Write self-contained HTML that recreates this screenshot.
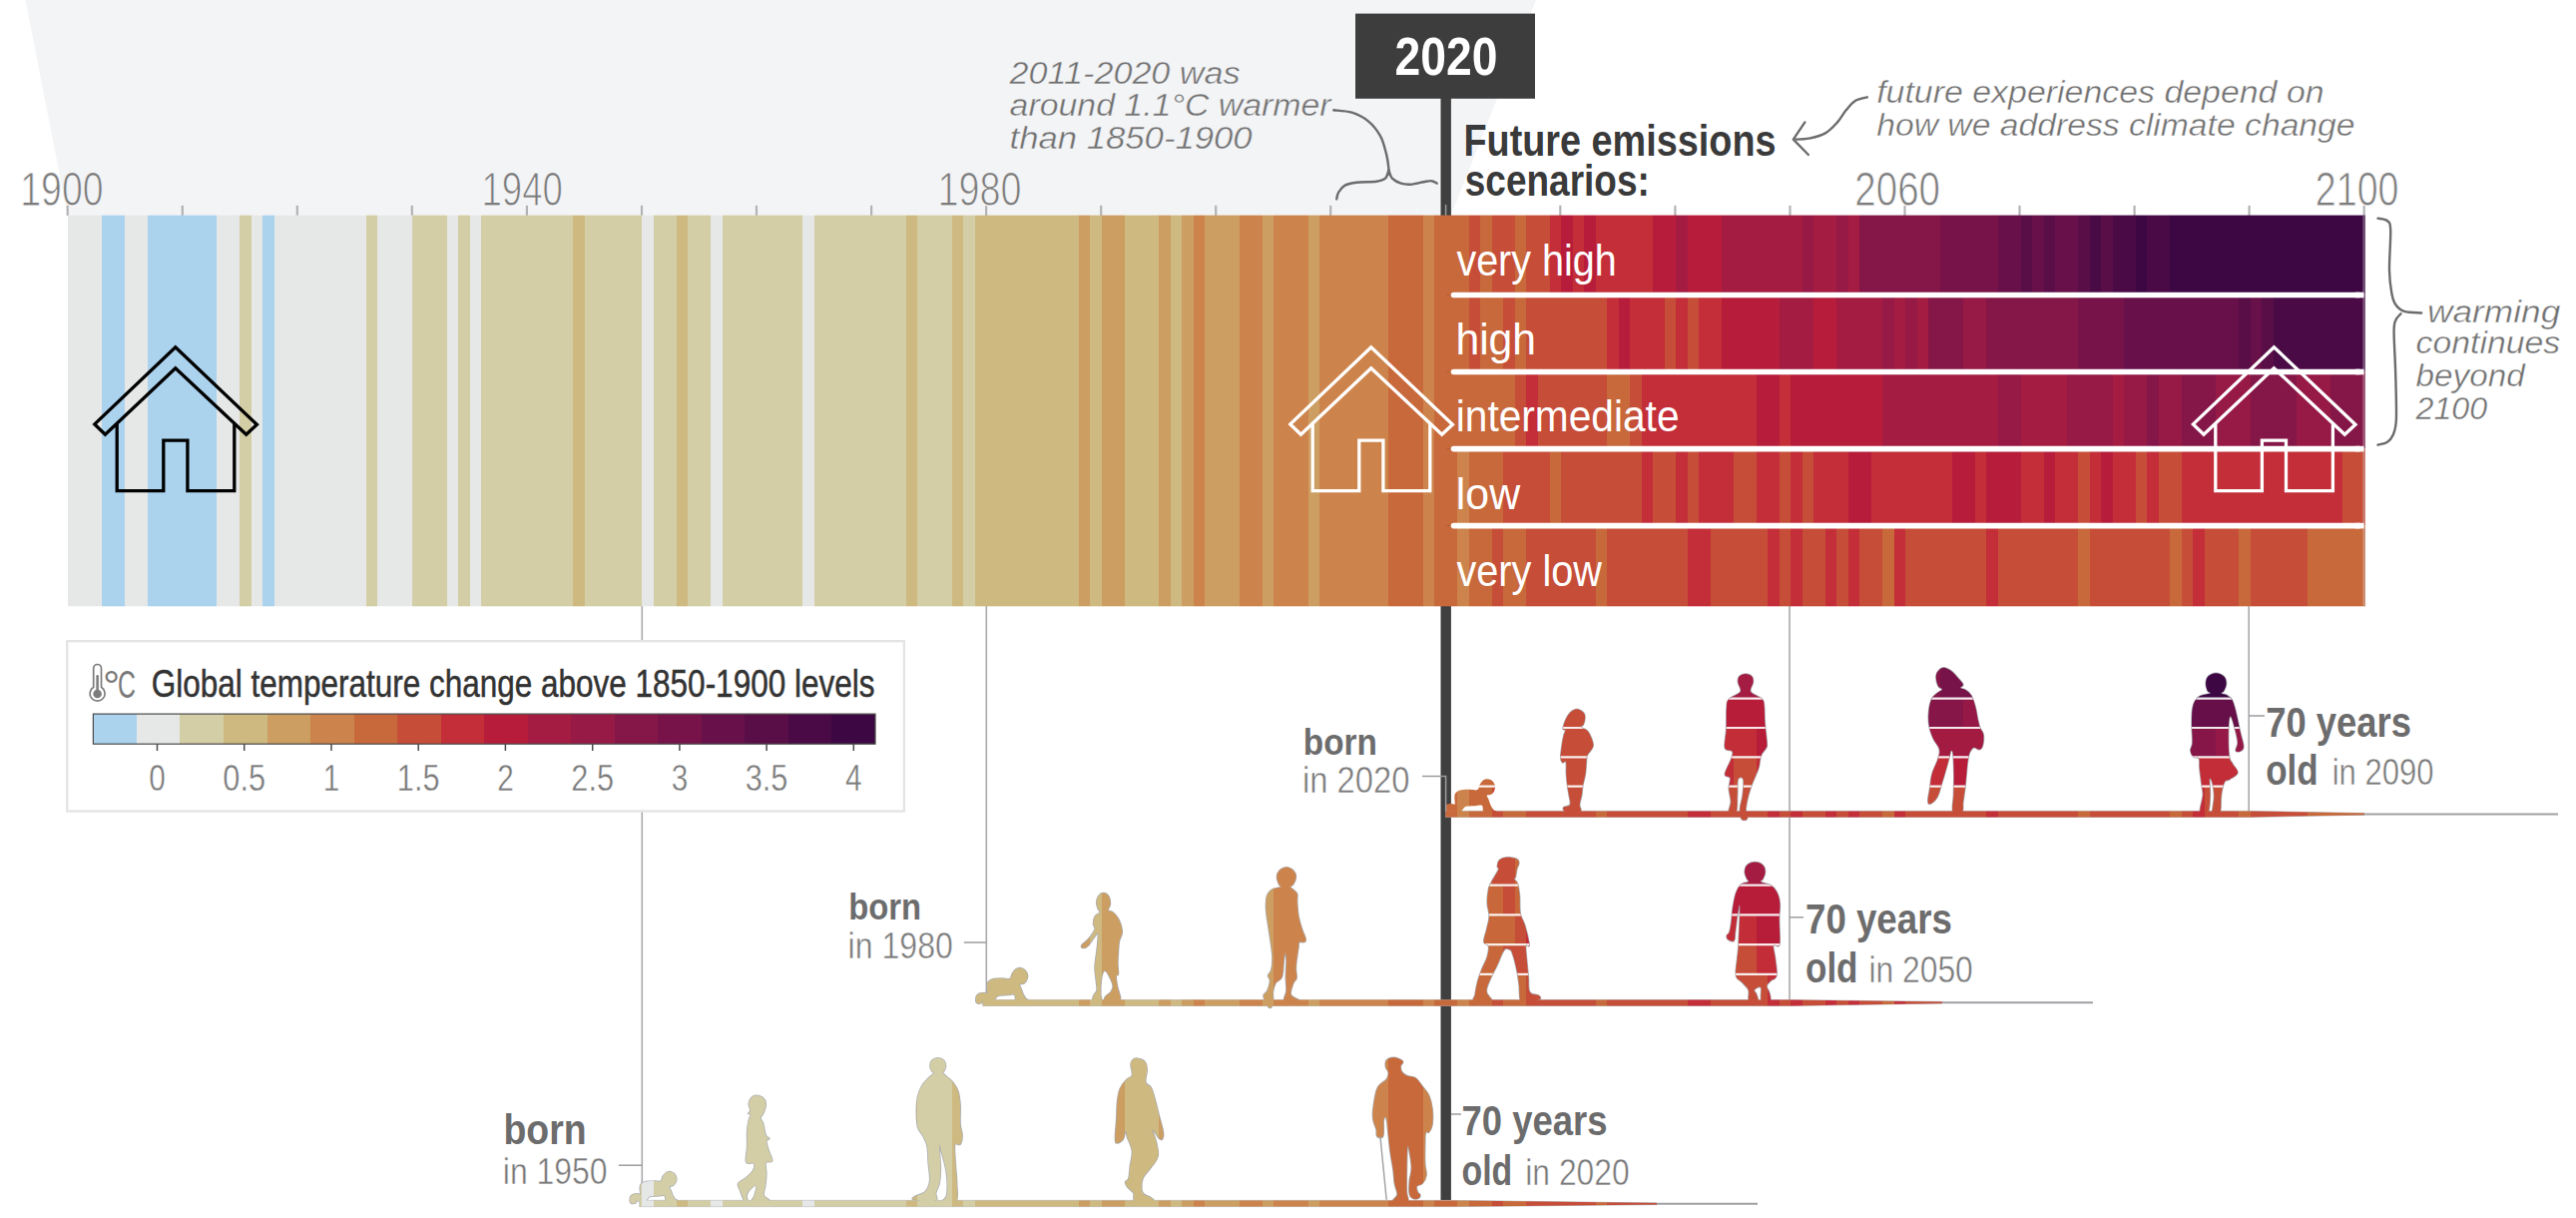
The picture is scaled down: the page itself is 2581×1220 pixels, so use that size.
<!DOCTYPE html>
<html lang="en"><head><meta charset="utf-8"><title>Global temperature change and generations</title>
<style>html,body{margin:0;padding:0;background:#fff}body{width:2581px;height:1220px;overflow:hidden}svg{display:block}</style></head>
<body>
<svg width="2581" height="1220" viewBox="0 0 2581 1220">
<defs><path id="girl1" d="M1581.1 710.5C1583.0 711.0 1585.7 712.5 1586.9 714.2C1588.2 715.9 1588.1 717.4 1588.0 719.5C1587.9 721.7 1587.2 724.4 1586.4 725.9C1585.6 727.5 1583.0 727.0 1583.7 728.1C1584.4 729.1 1588.4 730.2 1590.1 731.8C1591.9 733.4 1592.2 733.9 1593.3 736.6C1594.5 739.3 1596.5 743.6 1596.3 746.7C1596.1 749.9 1593.4 751.8 1592.3 753.7C1591.1 755.5 1590.6 755.5 1590.1 756.9C1589.6 758.2 1589.9 757.8 1589.6 761.1C1589.3 764.5 1589.2 770.3 1588.5 775.0C1587.8 779.7 1586.6 782.8 1585.9 786.7C1585.2 790.6 1585.4 792.8 1584.8 796.3C1584.2 799.9 1582.9 803.0 1582.7 805.9C1582.5 808.9 1585.1 811.1 1583.7 812.3C1582.4 813.6 1578.1 812.9 1575.2 812.9C1572.3 812.9 1569.3 813.1 1567.7 812.3C1566.2 811.6 1565.7 809.8 1566.7 808.6C1567.6 807.4 1572.1 808.2 1573.1 805.9C1574.0 803.7 1572.5 799.9 1572.0 796.3C1571.5 792.8 1570.9 790.6 1570.4 786.7C1569.9 782.8 1569.6 779.3 1569.3 775.0C1569.1 770.7 1569.7 765.3 1569.0 763.3C1568.3 761.2 1566.6 764.6 1565.6 763.8C1564.6 763.0 1563.8 761.8 1563.7 759.0C1563.5 756.2 1564.2 752.2 1564.7 748.3C1565.3 744.4 1565.7 740.8 1566.5 737.7C1567.2 734.5 1568.6 732.6 1568.6 731.3C1568.5 729.9 1566.3 731.8 1566.1 730.2C1566.0 728.6 1566.9 725.5 1567.9 722.7C1569.0 720.0 1570.5 717.3 1572.0 715.3C1573.5 713.2 1574.6 712.4 1576.3 711.5C1577.9 710.7 1579.1 710.0 1581.1 710.5Z"/><path id="man1" d="M1748.9 674.9C1751.2 674.9 1753.8 675.9 1755.2 677.5C1756.6 679.0 1756.7 681.0 1756.5 683.4C1756.3 685.8 1754.0 688.6 1753.9 690.6C1753.7 692.7 1753.7 692.8 1755.8 694.6C1758.0 696.4 1763.5 697.9 1765.7 700.5C1767.9 703.0 1767.2 704.0 1767.7 708.4C1768.1 712.7 1767.8 717.6 1768.3 724.1C1768.8 730.6 1770.1 739.3 1770.3 743.8C1770.5 748.4 1770.7 746.7 1769.6 749.1C1768.6 751.5 1765.8 753.1 1764.4 757.0C1762.9 760.8 1763.7 764.1 1761.8 770.1C1759.8 776.1 1756.2 782.6 1753.9 789.8C1751.6 797.0 1749.9 804.0 1749.3 809.5C1748.7 815.1 1751.4 818.1 1750.6 820.0C1749.7 822.0 1746.0 822.0 1744.7 820.0C1743.3 818.1 1743.1 813.9 1743.4 809.5C1743.6 805.2 1745.4 801.7 1746.0 796.4C1746.6 791.1 1747.5 783.5 1746.6 780.6C1745.8 777.7 1742.5 777.7 1741.4 780.6C1740.3 783.5 1741.1 790.4 1740.7 796.4C1740.4 802.4 1741.0 810.3 1739.4 813.5C1737.9 816.6 1733.2 815.4 1732.2 813.5C1731.2 811.5 1734.2 807.3 1734.2 803.0C1734.2 798.6 1732.3 794.2 1732.2 789.8C1732.1 785.5 1734.2 782.0 1733.5 779.3C1732.8 776.7 1728.0 779.0 1728.2 775.4C1728.5 771.8 1733.5 763.8 1734.8 759.6C1736.1 755.4 1736.7 754.3 1735.5 752.4C1734.3 750.4 1729.3 753.1 1728.2 749.1C1727.2 745.1 1729.2 738.2 1729.6 730.7C1729.9 723.2 1729.5 713.9 1730.0 708.4C1730.4 702.8 1730.0 703.0 1732.2 700.5C1734.4 697.9 1739.9 696.4 1742.0 694.6C1744.2 692.8 1744.1 692.7 1744.0 690.6C1743.9 688.6 1741.6 685.8 1741.4 683.4C1741.1 681.0 1741.3 679.0 1742.7 677.5C1744.1 675.9 1746.6 674.9 1748.9 674.9Z"/><path id="woman1" d="M1948.0 668.8C1950.4 669.1 1953.3 670.8 1956.1 672.9C1958.8 675.0 1960.9 678.0 1962.9 680.3C1964.8 682.7 1966.7 684.1 1966.9 685.8C1967.2 687.4 1963.7 688.1 1964.2 689.1C1964.7 690.1 1967.6 689.8 1969.6 691.2C1971.6 692.5 1973.3 693.6 1975.1 696.6C1976.8 699.6 1977.9 703.0 1979.1 707.4C1980.4 711.9 1981.0 717.0 1981.8 721.0C1982.7 725.0 1982.9 726.4 1983.9 729.1C1984.9 731.9 1986.8 732.7 1987.3 735.9C1987.8 739.1 1987.3 744.0 1986.6 746.7C1985.8 749.5 1984.8 750.4 1983.2 750.8C1981.6 751.2 1979.5 748.3 1977.8 748.8C1976.0 749.3 1974.8 751.2 1973.7 753.5C1972.6 755.9 1972.3 757.7 1971.7 761.7C1971.0 765.6 1970.8 770.2 1970.3 775.2C1969.8 780.2 1969.6 783.5 1969.0 788.8C1968.3 794.0 1967.5 799.2 1966.9 803.7C1966.4 808.1 1967.7 811.4 1965.8 813.2C1964.0 814.9 1958.3 816.4 1956.8 813.2C1955.2 809.9 1957.3 802.5 1957.4 795.5C1957.6 788.6 1957.8 782.7 1957.7 775.2C1957.6 767.8 1957.3 759.1 1956.8 754.9C1956.2 750.7 1955.3 751.7 1954.7 752.2C1954.1 752.7 1954.4 753.9 1953.4 757.6C1952.4 761.3 1950.8 767.3 1949.3 772.5C1947.8 777.7 1946.7 781.3 1945.2 786.1C1943.7 790.8 1943.2 794.8 1941.2 798.2C1939.2 801.7 1936.1 804.3 1934.4 805.0C1932.7 805.8 1931.8 805.3 1931.7 802.3C1931.6 799.3 1933.0 793.7 1933.7 788.8C1934.5 783.8 1934.4 780.2 1935.8 775.2C1937.1 770.2 1939.8 766.1 1941.2 761.7C1942.5 757.2 1944.0 754.8 1943.2 750.8C1942.5 746.8 1939.0 744.2 1937.1 740.0C1935.2 735.7 1933.9 732.5 1933.0 727.8C1932.2 723.0 1932.0 719.2 1932.4 714.2C1932.7 709.2 1933.6 704.3 1935.1 700.7C1936.6 697.1 1938.5 696.4 1940.5 694.6C1942.5 692.7 1945.7 691.9 1945.9 690.5C1946.2 689.1 1943.0 689.5 1941.9 687.1C1940.7 684.7 1939.7 680.5 1939.8 677.6C1939.9 674.8 1941.0 673.1 1942.5 671.5C1944.0 669.9 1945.5 668.6 1948.0 668.8Z"/><path id="oldw1" d="M2220.3 674.2C2223.2 674.2 2226.3 675.6 2228.2 677.5C2230.1 679.4 2230.6 682.1 2230.6 684.7C2230.6 687.4 2229.1 690.1 2228.2 691.9C2227.3 693.7 2225.0 693.7 2225.6 694.6C2226.2 695.4 2229.4 695.2 2231.5 696.5C2233.5 697.9 2235.1 698.4 2236.8 701.8C2238.4 705.2 2239.2 709.1 2240.7 714.9C2242.1 720.7 2243.3 727.3 2244.6 733.3C2246.0 739.3 2247.9 744.3 2247.9 747.8C2247.9 751.3 2246.1 751.7 2244.6 752.4C2243.2 753.1 2240.5 753.3 2240.0 751.7C2239.6 750.2 2242.1 747.7 2242.0 743.8C2241.9 740.0 2240.7 735.5 2239.4 730.7C2238.1 725.9 2236.0 717.6 2234.8 717.6C2233.6 717.6 2233.1 723.5 2232.8 730.7C2232.6 737.9 2232.7 750.7 2233.5 757.0C2234.2 763.2 2235.2 761.7 2236.8 764.9C2238.3 768.0 2242.5 771.2 2242.0 774.1C2241.5 776.9 2236.5 778.9 2234.1 780.6C2231.7 782.3 2230.4 780.4 2228.9 783.2C2227.3 786.1 2226.4 790.8 2225.6 796.4C2224.7 801.9 2225.8 810.3 2224.3 813.5C2222.7 816.6 2218.4 814.2 2217.0 813.5C2215.7 812.7 2216.8 812.7 2217.0 809.5C2217.3 806.4 2218.5 801.2 2218.4 796.4C2218.2 791.6 2217.2 786.1 2216.4 783.2C2215.5 780.4 2214.1 778.2 2213.8 780.6C2213.4 783.0 2214.7 790.4 2214.4 796.4C2214.2 802.4 2214.1 810.3 2212.4 813.5C2210.8 816.6 2206.7 814.2 2205.2 813.5C2203.8 812.7 2204.2 812.7 2204.6 809.5C2204.9 806.4 2206.9 800.7 2207.2 796.4C2207.4 792.1 2206.5 790.7 2205.9 785.9C2205.3 781.1 2204.4 774.9 2203.9 770.1C2203.4 765.3 2204.3 761.8 2203.2 759.6C2202.2 757.4 2199.6 759.7 2198.0 758.3C2196.4 756.8 2194.9 754.4 2194.7 751.7C2194.5 749.1 2196.4 748.9 2196.7 743.8C2196.9 738.8 2195.9 730.9 2196.0 724.1C2196.1 717.4 2196.0 711.9 2197.3 707.0C2198.7 702.2 2200.1 700.1 2203.2 697.8C2206.4 695.6 2212.9 695.6 2214.4 694.6C2216.0 693.5 2212.6 693.7 2211.8 691.9C2211.0 690.1 2210.0 687.4 2210.1 684.7C2210.2 682.1 2210.6 679.4 2212.4 677.5C2214.3 675.6 2217.4 674.2 2220.3 674.2Z"/><path id="r1baby" d="M1446.3 809.9C1446.5 808.6 1446.5 808.4 1447.3 807.5C1448.1 806.6 1448.8 806.0 1450.3 805.5C1451.8 805.0 1453.2 805.0 1454.7 805.0C1456.2 805.0 1457.1 806.5 1457.6 805.5C1458.1 804.5 1457.4 802.0 1457.4 800.1C1457.4 798.2 1457.2 797.5 1457.6 796.1C1458.0 794.7 1458.3 794.2 1459.6 793.2C1460.9 792.2 1461.4 791.7 1464.1 791.2C1466.8 790.7 1469.7 790.7 1472.9 790.7C1476.1 790.7 1478.3 792.1 1480.3 791.0C1482.3 789.9 1481.5 787.4 1482.9 785.4C1484.3 783.4 1485.4 781.7 1487.4 780.8C1489.4 779.9 1490.9 780.0 1492.9 780.8C1494.9 781.6 1496.2 783.0 1497.2 784.9C1498.2 786.8 1498.2 788.3 1497.7 790.4C1497.2 792.5 1496.5 793.9 1494.9 795.2C1493.3 796.5 1490.6 795.8 1489.9 796.8C1489.2 797.8 1490.4 798.1 1491.2 800.1C1492.0 802.1 1492.8 804.8 1493.8 807.0C1494.8 809.2 1495.3 809.7 1496.3 810.9C1497.3 812.1 1500.5 812.5 1498.7 812.9C1496.9 813.3 1489.8 813.7 1487.2 812.9C1484.6 812.1 1486.3 810.3 1485.7 809.0C1485.1 807.7 1485.8 806.9 1484.2 806.5C1482.6 806.1 1480.5 807.0 1477.8 807.2C1475.1 807.4 1472.6 807.2 1470.5 807.5C1468.4 807.8 1468.6 807.7 1467.5 808.5C1466.4 809.3 1465.8 810.5 1465.0 811.4C1464.2 812.3 1466.0 812.6 1463.6 812.9C1461.2 813.2 1455.4 812.5 1453.2 812.9C1451.0 813.3 1453.2 814.4 1452.7 814.9C1452.2 815.4 1451.6 815.2 1450.7 815.4C1449.8 815.6 1449.2 816.1 1448.3 815.8C1447.4 815.5 1446.7 815.1 1446.3 813.9C1445.9 812.7 1446.1 811.2 1446.3 809.9Z"/><path id="r1gr" d="M1448.5 812.4H2253L2369 814.6V816.1999999999999L2253 818.5H1448.5Z"/><clipPath id="r1"><use href="#girl1"/><use href="#man1"/><use href="#woman1"/><use href="#oldw1"/><use href="#r1gr"/></clipPath><clipPath id="r1b"><rect x="1448.5" y="0" width="200" height="1220"/></clipPath><clipPath id="r1c" clip-path="url(#r1b)"><use href="#r1baby"/></clipPath><path id="boy2" d="M1106.1 894.6C1107.8 894.8 1109.7 895.8 1110.9 897.8C1112.0 899.8 1112.6 902.7 1112.5 905.3C1112.4 907.8 1109.8 910.1 1110.3 911.7C1110.8 913.2 1113.3 912.2 1115.1 913.8C1117.0 915.4 1118.9 917.5 1120.5 920.2C1122.0 922.9 1123.0 926.0 1123.7 928.7C1124.4 931.5 1124.6 932.6 1124.2 935.1C1123.8 937.7 1122.2 939.3 1121.5 942.6C1120.8 945.9 1120.8 949.2 1120.5 953.3C1120.2 957.4 1119.9 960.9 1119.9 965.0C1119.9 969.1 1120.8 973.3 1120.5 975.7C1120.2 978.0 1118.5 975.6 1118.3 977.8C1118.1 980.0 1118.8 984.3 1119.4 987.4C1120.0 990.5 1120.9 992.5 1121.5 994.9C1122.1 997.2 1123.0 998.8 1122.6 1000.2C1122.2 1001.6 1122.1 1001.9 1119.4 1002.3C1116.7 1002.7 1109.8 1003.1 1107.7 1002.3C1105.5 1001.6 1106.7 999.6 1107.7 998.1C1108.6 996.5 1111.6 995.8 1113.0 993.8C1114.4 991.8 1115.3 990.1 1115.1 987.4C1114.9 984.7 1113.3 981.6 1111.9 978.9C1110.6 976.1 1109.0 973.1 1107.7 972.5C1106.3 971.9 1105.3 972.9 1104.5 975.7C1103.6 978.4 1103.2 983.5 1102.9 987.4C1102.6 991.3 1102.8 994.3 1102.9 997.0C1103.0 999.7 1104.9 1001.4 1103.4 1002.3C1101.9 1003.3 1096.1 1003.5 1094.9 1002.3C1093.6 1001.2 1095.7 997.9 1096.5 995.9C1097.2 994.0 1098.8 994.4 1099.1 991.7C1099.4 988.9 1098.5 985.3 1098.1 981.0C1097.7 976.7 1096.8 973.7 1097.0 968.2C1097.2 962.7 1098.5 956.6 1099.1 951.1C1099.7 945.7 1100.2 941.3 1100.2 938.3C1100.2 935.4 1100.9 933.6 1099.1 935.1C1097.4 936.7 1093.1 944.2 1090.6 946.9C1088.1 949.5 1086.5 949.5 1085.3 949.5C1084.0 949.5 1082.7 948.5 1083.7 946.9C1084.6 945.2 1088.2 943.4 1090.6 940.5C1093.0 937.5 1096.1 933.6 1097.0 930.9C1097.9 928.1 1095.4 927.9 1095.4 925.5C1095.4 923.2 1095.7 920.2 1097.0 918.1C1098.3 915.9 1101.7 915.2 1102.3 913.8C1102.9 912.4 1100.9 912.6 1100.2 910.6C1099.5 908.6 1098.4 905.7 1098.6 903.1C1098.8 900.6 1099.9 898.3 1101.3 896.7C1102.6 895.2 1104.3 894.4 1106.1 894.6Z"/><path id="teen2" d="M1288.9 868.7C1291.5 868.7 1294.2 870.3 1295.9 872.1C1297.7 873.9 1298.5 876.0 1298.5 878.5C1298.5 880.9 1297.0 883.6 1295.9 885.5C1294.9 887.3 1292.7 887.6 1292.7 888.6C1292.7 889.7 1294.6 889.9 1295.9 891.2C1297.2 892.5 1299.0 893.4 1299.7 895.6C1300.4 897.9 1299.5 899.3 1299.7 903.3C1300.0 907.2 1300.1 912.1 1301.0 917.3C1301.9 922.4 1303.5 927.2 1304.8 931.3C1306.1 935.4 1307.5 937.3 1308.0 939.6C1308.5 941.8 1308.5 942.6 1307.4 943.4C1306.2 944.2 1302.8 943.0 1301.6 944.0C1300.5 945.1 1301.6 944.7 1301.0 949.1C1300.4 953.5 1298.8 962.6 1298.5 968.2C1298.1 973.8 1299.6 976.6 1299.1 979.7C1298.6 982.7 1297.0 981.7 1295.9 984.7C1294.9 987.8 1292.4 993.1 1293.4 996.2C1294.3 999.4 1302.2 1000.8 1301.0 1001.9C1299.8 1003.0 1289.2 1004.1 1287.0 1002.3C1284.8 1000.6 1288.7 996.8 1288.9 992.4C1289.1 988.0 1288.3 984.0 1288.3 978.4C1288.3 972.8 1289.0 966.3 1288.9 961.8C1288.8 957.4 1288.1 954.2 1287.6 954.2C1287.2 954.2 1287.0 957.4 1286.4 961.8C1285.8 966.3 1286.0 974.2 1284.5 978.4C1282.9 982.6 1279.7 981.9 1278.1 984.7C1276.5 987.5 1276.0 990.2 1275.5 993.7C1275.1 997.2 1276.1 1000.9 1275.5 1003.8C1275.0 1006.8 1273.8 1009.6 1272.4 1009.6C1271.0 1009.6 1269.1 1006.2 1267.9 1003.8C1266.7 1001.5 1265.7 998.9 1266.0 996.8C1266.4 994.7 1268.7 995.1 1269.8 992.4C1271.0 989.7 1272.3 985.0 1272.4 982.2C1272.5 979.4 1270.2 979.0 1270.5 977.1C1270.7 975.2 1272.8 975.3 1273.6 972.0C1274.5 968.7 1275.0 964.7 1274.9 959.3C1274.8 953.9 1273.8 948.8 1273.0 942.7C1272.2 936.7 1271.3 932.0 1270.5 926.2C1269.6 920.4 1268.8 916.1 1268.5 910.9C1268.3 905.8 1268.1 901.8 1269.2 898.2C1270.2 894.6 1271.7 892.9 1274.3 891.2C1276.8 889.4 1281.9 889.7 1283.2 888.6C1284.5 887.6 1282.0 887.3 1281.3 885.5C1280.6 883.6 1279.3 880.9 1279.4 878.5C1279.5 876.0 1280.2 873.9 1281.9 872.1C1283.7 870.3 1286.3 868.7 1288.9 868.7Z"/><path id="walk2" d="M1509.7 858.8C1512.8 858.6 1517.0 859.2 1519.2 860.2C1521.5 861.2 1521.8 862.4 1521.9 864.2C1522.1 866.1 1520.5 867.7 1519.9 870.3C1519.3 872.9 1519.0 876.6 1518.5 878.5C1518.0 880.3 1516.8 879.3 1517.2 880.5C1517.6 881.7 1519.6 882.1 1520.6 885.2C1521.6 888.3 1522.1 892.0 1522.6 897.4C1523.1 902.9 1522.3 909.6 1523.3 915.1C1524.3 920.5 1526.4 921.8 1528.0 927.3C1529.6 932.7 1531.5 941.1 1532.1 944.9C1532.7 948.6 1532.0 947.1 1531.4 947.6C1530.8 948.1 1529.0 944.4 1528.7 947.6C1528.5 950.8 1529.6 959.5 1530.1 965.2C1530.6 970.9 1530.9 973.5 1531.4 978.8C1531.9 984.0 1530.9 990.3 1532.8 993.7C1534.6 997.0 1539.8 995.7 1541.6 997.1C1543.3 998.4 1544.6 1000.3 1542.3 1001.1C1539.9 1002.0 1532.2 1001.7 1528.7 1001.8C1525.2 1001.9 1524.5 1004.8 1523.3 1001.8C1522.0 998.8 1522.7 991.5 1521.9 985.5C1521.2 979.6 1520.5 975.0 1519.2 969.3C1518.0 963.6 1516.4 957.7 1515.1 954.4C1513.9 951.0 1513.9 951.5 1512.4 951.0C1510.9 950.5 1509.3 948.8 1507.0 951.7C1504.8 954.5 1502.7 961.3 1500.2 966.6C1497.8 971.8 1495.5 975.4 1493.5 980.1C1491.5 984.8 1489.5 988.8 1489.4 992.3C1489.3 995.8 1492.0 997.4 1492.8 999.1C1493.5 1000.8 1496.3 1001.3 1493.5 1001.8C1490.6 1002.3 1480.1 1002.8 1477.2 1001.8C1474.3 1000.8 1477.3 999.9 1477.9 996.4C1478.5 992.9 1479.2 987.8 1480.6 982.8C1482.0 977.9 1483.6 973.7 1485.3 969.3C1487.1 964.8 1489.0 962.4 1490.1 958.4C1491.2 954.5 1492.1 950.3 1491.4 947.6C1490.8 944.9 1487.1 946.5 1486.7 943.5C1486.3 940.5 1488.4 936.0 1489.4 931.3C1490.4 926.6 1492.0 922.7 1492.1 917.8C1492.2 912.8 1490.2 909.2 1490.1 904.2C1490.0 899.2 1490.7 894.4 1491.4 890.7C1492.2 886.9 1492.6 886.9 1494.1 883.9C1495.6 880.9 1498.2 876.9 1499.6 874.4C1500.9 871.9 1501.5 871.6 1501.6 870.3C1501.7 869.1 1500.1 869.2 1500.2 867.6C1500.4 866.0 1500.5 863.1 1502.3 861.5C1504.0 859.9 1506.6 859.1 1509.7 858.8Z"/><path id="oldw2" d="M1758.4 863.5C1761.2 863.5 1764.4 864.8 1766.2 866.6C1768.1 868.4 1768.6 870.8 1768.6 873.4C1768.6 876.0 1767.0 878.8 1766.2 880.6C1765.4 882.4 1762.7 882.0 1764.3 883.2C1765.8 884.5 1771.8 885.1 1774.8 887.2C1777.8 889.2 1779.1 891.2 1780.7 894.4C1782.3 897.7 1783.0 900.1 1783.3 904.9C1783.7 909.7 1782.7 913.9 1782.7 920.7C1782.7 927.4 1783.4 936.8 1783.3 941.7C1783.2 946.7 1783.2 946.7 1782.0 947.6C1780.8 948.6 1777.4 944.7 1776.8 947.0C1776.2 949.3 1778.1 954.6 1778.7 960.1C1779.3 965.7 1780.9 973.1 1780.0 977.2C1779.2 981.3 1775.9 980.5 1774.1 982.4C1772.3 984.4 1770.4 985.5 1770.2 987.7C1769.9 989.9 1772.2 991.6 1772.8 994.3C1773.4 996.9 1774.9 1000.7 1773.5 1002.2C1772.0 1003.6 1766.6 1004.6 1764.9 1002.2C1763.2 999.7 1765.6 990.9 1764.3 989.0C1762.9 987.1 1758.5 990.4 1757.7 991.6C1756.9 992.8 1759.1 993.7 1759.7 995.6C1760.3 997.5 1762.3 1001.0 1761.0 1002.2C1759.7 1003.4 1754.1 1004.1 1752.4 1002.2C1750.8 1000.2 1753.1 995.0 1751.8 991.6C1750.5 988.3 1747.5 986.4 1745.2 983.8C1742.9 981.1 1740.2 981.5 1739.3 977.2C1738.5 972.9 1740.1 965.9 1740.6 960.1C1741.1 954.3 1741.5 955.3 1741.9 945.7C1742.4 936.0 1743.5 912.6 1743.2 907.6C1743.0 902.5 1741.5 913.2 1740.6 918.1C1739.8 922.9 1739.3 929.4 1738.6 933.8C1738.0 938.3 1738.7 941.0 1737.3 942.4C1736.0 943.7 1732.7 942.0 1731.4 941.1C1730.1 940.1 1729.9 938.4 1730.1 937.1C1730.4 935.8 1731.9 936.4 1732.7 933.8C1733.6 931.3 1734.1 927.7 1734.7 923.3C1735.3 919.0 1735.2 915.5 1736.0 910.2C1736.9 904.9 1737.7 898.9 1739.3 894.4C1740.9 890.0 1742.3 887.9 1744.6 885.9C1746.9 883.8 1750.8 884.3 1751.8 883.2C1752.8 882.2 1750.9 881.8 1750.2 880.0C1749.5 878.2 1748.1 875.9 1748.1 873.4C1748.2 870.9 1748.6 868.4 1750.5 866.6C1752.4 864.8 1755.5 863.5 1758.4 863.5Z"/><path id="r2baby" d="M977.9 999.3C978.1 998.0 978.1 997.8 978.9 996.9C979.7 996.0 980.4 995.4 981.9 994.9C983.4 994.4 984.8 994.4 986.3 994.4C987.8 994.4 988.7 995.9 989.2 994.9C989.7 993.9 989.0 991.4 989.0 989.5C989.0 987.6 988.8 986.9 989.2 985.5C989.6 984.1 989.9 983.6 991.2 982.6C992.5 981.6 993.0 981.1 995.7 980.6C998.4 980.1 1001.3 980.1 1004.5 980.1C1007.7 980.1 1009.9 981.5 1011.9 980.4C1013.9 979.3 1013.1 976.8 1014.5 974.8C1015.9 972.8 1017.0 971.1 1019.0 970.2C1021.0 969.3 1022.5 969.4 1024.5 970.2C1026.5 971.0 1027.8 972.4 1028.8 974.3C1029.8 976.2 1029.8 977.7 1029.3 979.8C1028.8 981.9 1028.1 983.3 1026.5 984.6C1024.9 985.9 1022.2 985.2 1021.5 986.2C1020.8 987.2 1022.0 987.5 1022.8 989.5C1023.6 991.5 1024.4 994.2 1025.4 996.4C1026.4 998.6 1026.9 999.1 1027.9 1000.3C1028.9 1001.5 1032.1 1001.9 1030.3 1002.3C1028.5 1002.7 1021.4 1003.1 1018.8 1002.3C1016.2 1001.5 1017.9 999.7 1017.3 998.4C1016.7 997.1 1017.4 996.3 1015.8 995.9C1014.2 995.5 1012.1 996.4 1009.4 996.6C1006.7 996.8 1004.2 996.6 1002.1 996.9C1000.0 997.2 1000.2 997.1 999.1 997.9C998.0 998.7 997.4 999.9 996.6 1000.8C995.8 1001.7 997.6 1002.0 995.2 1002.3C992.8 1002.6 987.0 1001.9 984.8 1002.3C982.6 1002.7 984.8 1003.8 984.3 1004.3C983.8 1004.8 983.2 1004.6 982.3 1004.8C981.4 1005.0 980.8 1005.5 979.9 1005.2C979.0 1004.9 978.3 1004.5 977.9 1003.3C977.5 1002.1 977.7 1000.6 977.9 999.3Z"/><path id="r2gr" d="M984.8 1001.6H1794L1946 1003.4000000000001V1005.0L1794 1007.5H984.8Z"/><clipPath id="r2"><use href="#boy2"/><use href="#teen2"/><use href="#walk2"/><use href="#oldw2"/><use href="#r2baby"/><use href="#r2gr"/></clipPath><path id="girl3" d="M757.7 1097.3C759.8 1097.3 762.3 1097.9 764.1 1099.4C765.9 1100.9 767.0 1102.8 767.3 1105.3C767.6 1107.7 766.4 1110.6 765.7 1112.8C765.0 1114.9 764.3 1115.7 763.6 1117.0C762.9 1118.4 761.8 1118.7 762.0 1120.2C762.2 1121.8 763.7 1122.4 764.6 1125.6C765.6 1128.7 766.1 1134.6 767.3 1137.3C768.5 1140.1 770.9 1139.4 771.0 1140.5C771.1 1141.6 767.9 1140.8 767.8 1143.2C767.7 1145.5 769.4 1149.7 770.5 1153.3C771.6 1156.9 774.3 1160.9 773.7 1162.9C773.1 1165.0 768.4 1162.2 767.3 1164.5C766.2 1166.9 767.9 1171.5 767.8 1175.7C767.7 1180.0 767.3 1183.6 766.8 1187.5C766.3 1191.4 764.5 1194.5 765.2 1197.1C765.9 1199.7 769.4 1200.7 770.5 1201.9C771.6 1203.1 774.0 1203.2 771.0 1203.5C768.1 1203.8 757.2 1204.7 754.5 1203.5C751.8 1202.3 755.5 1200.0 756.1 1197.1C756.7 1194.2 758.8 1188.3 757.7 1187.5C756.6 1186.7 752.0 1190.9 750.2 1192.8C748.5 1194.8 748.4 1196.6 748.1 1198.2C747.8 1199.7 749.1 1200.7 748.6 1201.4C748.1 1202.1 746.7 1203.5 745.4 1201.9C744.2 1200.3 742.8 1195.9 741.7 1192.8C740.6 1189.8 738.6 1187.7 739.6 1185.4C740.5 1183.0 744.3 1182.4 747.0 1180.0C749.8 1177.7 753.0 1175.3 754.5 1172.5C756.0 1169.8 756.3 1166.6 755.0 1165.1C753.8 1163.5 748.7 1166.9 747.6 1164.0C746.4 1161.1 748.4 1154.7 748.6 1149.1C748.8 1143.4 748.3 1137.9 748.6 1133.0C748.9 1128.1 749.5 1125.5 750.2 1122.4C750.9 1119.2 752.5 1117.2 752.4 1116.0C752.3 1114.7 749.8 1116.1 749.7 1115.4C749.6 1114.7 751.7 1114.1 751.8 1112.2C751.9 1110.4 750.0 1107.6 750.2 1105.3C750.4 1102.9 751.5 1100.9 752.9 1099.4C754.3 1097.9 755.6 1097.3 757.7 1097.3Z"/><path id="man3" d="M939.7 1059.8C942.0 1059.8 944.4 1060.8 945.8 1062.2C947.3 1063.6 947.6 1065.6 947.6 1067.6C947.6 1069.6 946.4 1071.8 945.8 1073.0C945.3 1074.3 943.9 1073.3 944.5 1074.4C945.1 1075.5 947.4 1077.4 949.2 1079.1C951.1 1080.9 952.6 1081.3 954.6 1083.9C956.6 1086.5 958.7 1089.1 960.1 1093.4C961.4 1097.6 961.7 1101.0 962.1 1106.9C962.5 1112.9 961.7 1120.4 962.1 1125.9C962.5 1131.4 964.1 1133.0 964.1 1136.7C964.1 1140.5 963.5 1144.4 962.1 1146.2C960.7 1148.1 957.5 1143.4 956.7 1146.9C955.8 1150.4 957.0 1158.1 957.3 1165.2C957.7 1172.3 958.6 1178.6 958.7 1185.5C958.8 1192.5 960.5 1199.9 958.0 1203.2C955.5 1206.4 946.9 1204.2 945.1 1203.2C943.4 1202.2 947.8 1201.0 948.5 1197.7C949.3 1194.5 949.3 1190.3 949.2 1185.5C949.1 1180.8 949.0 1177.9 947.9 1172.0C946.7 1166.0 944.4 1157.5 943.1 1153.0C941.9 1148.5 941.2 1144.1 941.1 1147.6C941.0 1151.1 942.4 1165.0 942.4 1172.0C942.4 1178.9 942.0 1181.3 941.1 1185.5C940.2 1189.8 938.4 1192.0 937.7 1195.0C936.9 1198.1 941.0 1200.9 937.0 1202.1C933.0 1203.3 919.7 1202.2 916.0 1201.5C912.3 1200.9 914.7 1199.9 916.7 1198.4C918.7 1197.0 924.1 1196.5 926.9 1193.7C929.6 1190.8 931.0 1188.0 931.6 1182.8C932.2 1177.6 930.7 1171.7 930.2 1165.2C929.7 1158.7 930.0 1152.8 928.9 1147.6C927.8 1142.4 925.9 1140.2 924.1 1136.7C922.4 1133.3 920.5 1133.3 919.4 1128.6C918.3 1123.9 918.3 1116.5 918.3 1111.0C918.3 1105.5 918.5 1103.0 919.4 1098.8C920.3 1094.6 921.6 1091.3 923.5 1088.0C925.3 1084.6 927.3 1082.9 929.6 1080.5C931.8 1078.1 934.9 1076.4 935.7 1075.1C936.4 1073.7 934.3 1074.4 933.6 1073.0C932.9 1071.7 931.9 1069.6 931.9 1067.6C931.9 1065.6 932.2 1063.6 933.6 1062.2C935.1 1060.8 937.5 1059.8 939.7 1059.8Z"/><path id="walk3" d="M1139.7 1060.2C1142.0 1060.5 1145.4 1061.4 1147.2 1063.6C1148.9 1065.7 1149.1 1068.0 1149.2 1071.7C1149.3 1075.4 1147.1 1080.7 1147.9 1083.9C1148.6 1087.1 1151.5 1086.1 1153.3 1089.3C1155.0 1092.5 1155.9 1096.3 1157.3 1101.5C1158.8 1106.7 1159.9 1111.8 1161.4 1117.8C1162.9 1123.7 1164.9 1129.8 1165.5 1134.0C1166.1 1138.3 1165.5 1139.7 1164.8 1140.8C1164.1 1141.9 1163.3 1141.9 1161.4 1140.1C1159.6 1138.4 1155.1 1130.5 1154.6 1131.3C1154.1 1132.2 1157.7 1139.9 1158.7 1144.9C1159.7 1149.8 1161.1 1154.0 1160.1 1158.4C1159.1 1162.9 1156.0 1165.3 1153.3 1169.3C1150.5 1173.2 1146.9 1176.1 1145.1 1180.1C1143.4 1184.1 1143.5 1188.0 1143.8 1191.0C1144.0 1193.9 1144.8 1194.8 1146.5 1196.4C1148.2 1198.0 1151.8 1198.5 1153.3 1199.8C1154.8 1201.0 1157.5 1202.5 1154.6 1203.2C1151.8 1203.8 1141.2 1204.6 1137.7 1203.2C1134.2 1201.7 1137.0 1197.5 1135.7 1195.0C1134.3 1192.5 1131.7 1191.6 1130.2 1189.6C1128.7 1187.6 1127.4 1185.9 1127.5 1184.2C1127.7 1182.4 1130.0 1183.1 1130.9 1180.1C1131.8 1177.1 1131.7 1172.9 1132.3 1167.9C1132.9 1162.9 1134.8 1158.2 1134.3 1153.0C1133.8 1147.8 1130.8 1143.2 1129.6 1139.5C1128.3 1135.7 1128.3 1132.4 1127.5 1132.7C1126.8 1132.9 1127.0 1138.6 1125.5 1140.8C1124.0 1143.0 1120.9 1144.9 1119.4 1144.9C1117.9 1144.9 1117.5 1145.3 1117.4 1140.8C1117.2 1136.3 1118.3 1127.2 1118.7 1120.5C1119.1 1113.8 1118.8 1109.7 1119.4 1104.2C1120.0 1098.7 1120.4 1094.9 1122.1 1090.7C1123.8 1086.4 1126.6 1083.7 1128.9 1081.2C1131.1 1078.7 1133.6 1079.8 1134.3 1077.1C1135.1 1074.4 1132.8 1069.1 1133.0 1066.3C1133.1 1063.4 1133.7 1062.6 1135.0 1061.5C1136.2 1060.4 1137.5 1059.8 1139.7 1060.2Z"/><path id="oldm3" d="M1396.6 1059.2C1399.5 1059.2 1403.1 1061.2 1404.7 1062.2C1406.3 1063.2 1405.7 1063.9 1405.4 1064.9C1405.2 1065.9 1403.5 1066.0 1403.4 1067.6C1403.2 1069.2 1403.5 1071.9 1404.7 1073.7C1406.0 1075.6 1407.7 1076.7 1410.1 1077.8C1412.6 1078.9 1415.5 1078.0 1418.3 1079.8C1421.0 1081.7 1422.6 1084.7 1425.1 1088.0C1427.5 1091.2 1430.0 1093.2 1431.8 1097.4C1433.7 1101.7 1434.6 1105.8 1435.2 1111.0C1435.8 1116.2 1435.8 1121.7 1435.2 1125.9C1434.6 1130.1 1433.1 1132.4 1431.8 1134.0C1430.6 1135.6 1429.2 1132.2 1428.4 1134.7C1427.7 1137.2 1427.9 1142.0 1427.8 1147.6C1427.6 1153.2 1427.5 1159.7 1427.8 1165.2C1428.0 1170.7 1429.6 1173.7 1429.1 1177.4C1428.6 1181.1 1426.8 1183.6 1425.1 1185.5C1423.3 1187.5 1420.5 1186.8 1419.6 1188.2C1418.8 1189.7 1419.7 1192.1 1420.3 1193.7C1420.9 1195.3 1422.9 1195.8 1423.0 1197.1C1423.1 1198.3 1422.4 1199.8 1421.0 1200.4C1419.6 1201.1 1417.2 1201.3 1415.6 1200.4C1414.0 1199.6 1412.8 1198.9 1412.2 1195.7C1411.6 1192.5 1411.8 1187.7 1412.2 1182.8C1412.6 1178.0 1414.3 1175.2 1414.2 1169.3C1414.1 1163.3 1412.2 1153.8 1411.5 1150.3C1410.8 1146.8 1410.5 1146.3 1410.1 1150.3C1409.8 1154.3 1409.6 1164.0 1409.5 1172.0C1409.3 1179.9 1409.3 1188.0 1409.5 1193.7C1409.6 1199.4 1412.6 1201.4 1410.1 1203.2C1407.7 1204.9 1397.8 1204.4 1395.9 1203.2C1394.1 1201.9 1399.7 1199.6 1400.0 1196.4C1400.2 1193.2 1398.0 1190.0 1397.3 1185.5C1396.5 1181.1 1396.7 1177.5 1395.9 1172.0C1395.2 1166.5 1394.1 1161.9 1393.2 1155.7C1392.3 1149.5 1391.9 1144.6 1391.2 1138.1C1390.4 1131.6 1390.0 1123.5 1389.1 1120.5C1388.3 1117.5 1387.1 1118.6 1386.4 1121.8C1385.8 1125.1 1387.0 1135.1 1385.8 1138.1C1384.5 1141.1 1380.9 1139.3 1379.7 1138.1C1378.4 1136.9 1379.7 1134.6 1379.0 1131.3C1378.2 1128.1 1376.1 1125.0 1375.6 1120.5C1375.1 1116.0 1375.4 1112.6 1376.3 1106.9C1377.1 1101.2 1378.0 1094.0 1380.3 1089.3C1382.7 1084.6 1387.2 1083.9 1389.1 1081.2C1391.1 1078.4 1391.3 1076.6 1391.2 1074.4C1391.0 1072.2 1388.8 1071.2 1388.5 1069.0C1388.1 1066.7 1387.6 1064.0 1389.1 1062.2C1390.6 1060.4 1393.7 1059.2 1396.6 1059.2Z"/><path id="r3baby" d="M631.3 1200.2C631.5 1199.1 631.5 1198.9 632.2 1198.1C632.9 1197.3 633.6 1196.7 634.9 1196.3C636.2 1195.8 637.6 1195.8 638.9 1195.8C640.2 1195.8 641.0 1197.2 641.5 1196.3C642.0 1195.4 641.3 1193.1 641.3 1191.4C641.3 1189.7 641.1 1189.1 641.5 1187.8C641.9 1186.6 642.1 1186.1 643.3 1185.2C644.4 1184.3 644.9 1183.9 647.3 1183.4C649.7 1183.0 652.3 1183.0 655.2 1183.0C658.2 1182.9 660.1 1184.2 661.9 1183.2C663.7 1182.3 663.0 1180.0 664.2 1178.2C665.5 1176.4 666.5 1174.9 668.3 1174.1C670.1 1173.2 671.5 1173.3 673.2 1174.1C675.0 1174.8 676.3 1176.0 677.1 1177.8C678.0 1179.5 678.0 1180.8 677.6 1182.7C677.2 1184.6 676.5 1185.9 675.0 1187.0C673.6 1188.2 671.2 1187.6 670.5 1188.5C669.9 1189.3 671.0 1189.6 671.7 1191.4C672.4 1193.3 673.1 1195.7 674.1 1197.6C675.0 1199.6 675.4 1200.1 676.3 1201.2C677.2 1202.2 680.1 1202.6 678.5 1203.0C676.8 1203.3 670.5 1203.7 668.1 1203.0C665.8 1202.2 667.3 1200.6 666.8 1199.4C666.2 1198.3 666.8 1197.5 665.4 1197.2C664.0 1196.9 662.1 1197.6 659.7 1197.8C657.2 1198.0 654.9 1197.9 653.1 1198.1C651.2 1198.3 651.4 1198.3 650.4 1199.0C649.4 1199.7 648.8 1200.8 648.1 1201.6C647.4 1202.4 649.0 1202.7 646.9 1203.0C644.8 1203.2 639.5 1202.6 637.5 1203.0C635.6 1203.3 637.5 1204.3 637.1 1204.8C636.6 1205.2 636.1 1205.0 635.3 1205.2C634.5 1205.4 633.9 1205.8 633.1 1205.6C632.3 1205.3 631.7 1204.9 631.3 1203.8C630.9 1202.8 631.1 1201.4 631.3 1200.2Z"/><path id="r3gr" d="M640.8 1202.4H1454L1660 1205.0V1206.6L1454 1208.6H640.8Z"/><clipPath id="r3"><use href="#girl3"/><use href="#man3"/><use href="#walk3"/><use href="#oldm3"/><use href="#r3baby"/><use href="#r3gr"/></clipPath></defs>
<polygon points="25.5,0 1539,0 1454,215.5 67.7,215.5" fill="#f3f4f6"/>
<g stroke="#a9a9ad" stroke-width="1.6" fill="none">
<path d="M643.3 600V1208"/><path d="M988.3 600V1006"/><path d="M1793 600V1006"/><path d="M2253.2 600V817"/>
</g>
<rect x="1443.5" y="90" width="10.4" height="1112" fill="#3f3f3f"/>
<g stroke="#b3b3b6" stroke-width="2.2">
<path d="M67.7 205.8V216"/>
<path d="M182.8 205.8V216"/>
<path d="M297.8 205.8V216"/>
<path d="M412.8 205.8V216"/>
<path d="M527.9 205.8V216"/>
<path d="M643.0 205.8V216"/>
<path d="M758.0 205.8V216"/>
<path d="M873.1 205.8V216"/>
<path d="M988.1 205.8V216"/>
<path d="M1103.2 205.8V216"/>
<path d="M1218.2 205.8V216"/>
<path d="M1333.2 205.8V216"/>
<path d="M1563.3 205.8V216"/>
<path d="M1678.4 205.8V216"/>
<path d="M1793.5 205.8V216"/>
<path d="M1908.5 205.8V216"/>
<path d="M2023.5 205.8V216"/>
<path d="M2138.6 205.8V216"/>
<path d="M2253.6 205.8V216"/>
<path d="M2368.7 205.8V216"/>
</g>
<path d="M1448.6 205V216" stroke="#9a9a9a" stroke-width="1.5"/>
<g shape-rendering="auto">
<rect x="68" y="215.6" width="34" height="391.7" fill="#e6e7e7"/><rect x="102" y="215.6" width="23" height="391.7" fill="#abd3ee"/><rect x="125" y="215.6" width="23" height="391.7" fill="#e6e7e7"/><rect x="148" y="215.6" width="69" height="391.7" fill="#abd3ee"/><rect x="217" y="215.6" width="23" height="391.7" fill="#e6e7e7"/><rect x="240" y="215.6" width="12" height="391.7" fill="#d4cea6"/><rect x="252" y="215.6" width="11" height="391.7" fill="#e6e7e7"/><rect x="263" y="215.6" width="12" height="391.7" fill="#abd3ee"/><rect x="275" y="215.6" width="92" height="391.7" fill="#e6e7e7"/><rect x="367" y="215.6" width="11" height="391.7" fill="#d4cea6"/><rect x="378" y="215.6" width="35" height="391.7" fill="#e6e7e7"/><rect x="413" y="215.6" width="35" height="391.7" fill="#d4cea6"/><rect x="448" y="215.6" width="11" height="391.7" fill="#e6e7e7"/><rect x="459" y="215.6" width="12" height="391.7" fill="#d4cea6"/><rect x="471" y="215.6" width="11" height="391.7" fill="#e6e7e7"/><rect x="482" y="215.6" width="92" height="391.7" fill="#d4cea6"/><rect x="574" y="215.6" width="12" height="391.7" fill="#ceb981"/><rect x="586" y="215.6" width="57" height="391.7" fill="#d4cea6"/><rect x="643" y="215.6" width="12" height="391.7" fill="#e6e7e7"/><rect x="655" y="215.6" width="23" height="391.7" fill="#d4cea6"/><rect x="678" y="215.6" width="11" height="391.7" fill="#ceb981"/><rect x="689" y="215.6" width="23" height="391.7" fill="#d4cea6"/><rect x="712" y="215.6" width="12" height="391.7" fill="#e6e7e7"/><rect x="724" y="215.6" width="80" height="391.7" fill="#d4cea6"/><rect x="804" y="215.6" width="12" height="391.7" fill="#e6e7e7"/><rect x="816" y="215.6" width="92" height="391.7" fill="#d4cea6"/><rect x="908" y="215.6" width="11" height="391.7" fill="#ceb981"/><rect x="919" y="215.6" width="35" height="391.7" fill="#d4cea6"/><rect x="954" y="215.6" width="11" height="391.7" fill="#ceb981"/><rect x="965" y="215.6" width="12" height="391.7" fill="#d4cea6"/><rect x="977" y="215.6" width="104" height="391.7" fill="#ceb981"/><rect x="1081" y="215.6" width="11" height="391.7" fill="#cc9e61"/><rect x="1092" y="215.6" width="12" height="391.7" fill="#ceb981"/><rect x="1104" y="215.6" width="23" height="391.7" fill="#cc9e61"/><rect x="1127" y="215.6" width="34" height="391.7" fill="#ceb981"/><rect x="1161" y="215.6" width="12" height="391.7" fill="#cc9e61"/><rect x="1173" y="215.6" width="11" height="391.7" fill="#ceb981"/><rect x="1184" y="215.6" width="12" height="391.7" fill="#cc9e61"/><rect x="1196" y="215.6" width="11" height="391.7" fill="#cd844c"/><rect x="1207" y="215.6" width="35" height="391.7" fill="#cc9e61"/><rect x="1242" y="215.6" width="23" height="391.7" fill="#cd844c"/><rect x="1265" y="215.6" width="11" height="391.7" fill="#cc9e61"/><rect x="1276" y="215.6" width="35" height="391.7" fill="#cd844c"/><rect x="1311" y="215.6" width="11" height="391.7" fill="#cc9e61"/><rect x="1322" y="215.6" width="69" height="391.7" fill="#cd844c"/><rect x="1391" y="215.6" width="35" height="391.7" fill="#c8693b"/><rect x="1426" y="215.6" width="11" height="391.7" fill="#cd844c"/><rect x="1437" y="215.6" width="12" height="391.7" fill="#c8693b"/>
<rect x="1449" y="215.6" width="23" height="79.6" fill="#c8693b"/><rect x="1472" y="215.6" width="11" height="79.6" fill="#c64e39"/><rect x="1483" y="215.6" width="12" height="79.6" fill="#c8693b"/><rect x="1495" y="215.6" width="23" height="79.6" fill="#c64e39"/><rect x="1518" y="215.6" width="11" height="79.6" fill="#c8693b"/><rect x="1529" y="215.6" width="24" height="79.6" fill="#c64e39"/><rect x="1553" y="215.6" width="11" height="79.6" fill="#c32e38"/><rect x="1564" y="215.6" width="12" height="79.6" fill="#b71d3a"/><rect x="1576" y="215.6" width="11" height="79.6" fill="#c32e38"/><rect x="1587" y="215.6" width="12" height="79.6" fill="#b71d3a"/><rect x="1599" y="215.6" width="57" height="79.6" fill="#c32e38"/><rect x="1656" y="215.6" width="23" height="79.6" fill="#b71d3a"/><rect x="1679" y="215.6" width="12" height="79.6" fill="#a51c42"/><rect x="1691" y="215.6" width="34" height="79.6" fill="#b71d3a"/><rect x="1725" y="215.6" width="81" height="79.6" fill="#a51c42"/><rect x="1806" y="215.6" width="11" height="79.6" fill="#961946"/><rect x="1817" y="215.6" width="23" height="79.6" fill="#a51c42"/><rect x="1840" y="215.6" width="12" height="79.6" fill="#961946"/><rect x="1852" y="215.6" width="11" height="79.6" fill="#a51c42"/><rect x="1863" y="215.6" width="81" height="79.6" fill="#851748"/><rect x="1944" y="215.6" width="58" height="79.6" fill="#771349"/><rect x="2002" y="215.6" width="23" height="79.6" fill="#671049"/><rect x="2025" y="215.6" width="11" height="79.6" fill="#590e48"/><rect x="2036" y="215.6" width="12" height="79.6" fill="#671049"/><rect x="2048" y="215.6" width="11" height="79.6" fill="#590e48"/><rect x="2059" y="215.6" width="23" height="79.6" fill="#671049"/><rect x="2082" y="215.6" width="12" height="79.6" fill="#590e48"/><rect x="2094" y="215.6" width="11" height="79.6" fill="#490a46"/><rect x="2105" y="215.6" width="12" height="79.6" fill="#590e48"/><rect x="2117" y="215.6" width="23" height="79.6" fill="#490a46"/><rect x="2140" y="215.6" width="11" height="79.6" fill="#3c0743"/><rect x="2151" y="215.6" width="23" height="79.6" fill="#490a46"/><rect x="2174" y="215.6" width="196" height="79.6" fill="#3c0743"/>
<rect x="1449" y="295.2" width="23" height="77.0" fill="#c8693b"/><rect x="1472" y="295.2" width="11" height="77.0" fill="#c64e39"/><rect x="1483" y="295.2" width="23" height="77.0" fill="#c8693b"/><rect x="1506" y="295.2" width="12" height="77.0" fill="#c64e39"/><rect x="1518" y="295.2" width="11" height="77.0" fill="#c8693b"/><rect x="1529" y="295.2" width="81" height="77.0" fill="#c64e39"/><rect x="1610" y="295.2" width="12" height="77.0" fill="#c32e38"/><rect x="1622" y="295.2" width="11" height="77.0" fill="#b71d3a"/><rect x="1633" y="295.2" width="35" height="77.0" fill="#c32e38"/><rect x="1668" y="295.2" width="11" height="77.0" fill="#c64e39"/><rect x="1679" y="295.2" width="12" height="77.0" fill="#c32e38"/><rect x="1691" y="295.2" width="11" height="77.0" fill="#c64e39"/><rect x="1702" y="295.2" width="23" height="77.0" fill="#c32e38"/><rect x="1725" y="295.2" width="58" height="77.0" fill="#b71d3a"/><rect x="1783" y="295.2" width="34" height="77.0" fill="#a51c42"/><rect x="1817" y="295.2" width="23" height="77.0" fill="#b71d3a"/><rect x="1840" y="295.2" width="46" height="77.0" fill="#a51c42"/><rect x="1886" y="295.2" width="12" height="77.0" fill="#961946"/><rect x="1898" y="295.2" width="11" height="77.0" fill="#a51c42"/><rect x="1909" y="295.2" width="12" height="77.0" fill="#961946"/><rect x="1921" y="295.2" width="11" height="77.0" fill="#a51c42"/><rect x="1932" y="295.2" width="35" height="77.0" fill="#851748"/><rect x="1967" y="295.2" width="23" height="77.0" fill="#961946"/><rect x="1990" y="295.2" width="92" height="77.0" fill="#851748"/><rect x="2082" y="295.2" width="46" height="77.0" fill="#771349"/><rect x="2128" y="295.2" width="115" height="77.0" fill="#671049"/><rect x="2243" y="295.2" width="12" height="77.0" fill="#590e48"/><rect x="2255" y="295.2" width="11" height="77.0" fill="#671049"/><rect x="2266" y="295.2" width="12" height="77.0" fill="#590e48"/><rect x="2278" y="295.2" width="92" height="77.0" fill="#490a46"/>
<rect x="1449" y="372.2" width="69" height="77.1" fill="#c8693b"/><rect x="1518" y="372.2" width="11" height="77.1" fill="#c64e39"/><rect x="1529" y="372.2" width="12" height="77.1" fill="#c32e38"/><rect x="1541" y="372.2" width="69" height="77.1" fill="#c64e39"/><rect x="1610" y="372.2" width="23" height="77.1" fill="#c8693b"/><rect x="1633" y="372.2" width="12" height="77.1" fill="#c64e39"/><rect x="1645" y="372.2" width="115" height="77.1" fill="#c32e38"/><rect x="1760" y="372.2" width="23" height="77.1" fill="#b71d3a"/><rect x="1783" y="372.2" width="11" height="77.1" fill="#c32e38"/><rect x="1794" y="372.2" width="92" height="77.1" fill="#b71d3a"/><rect x="1886" y="372.2" width="116" height="77.1" fill="#a51c42"/><rect x="2002" y="372.2" width="23" height="77.1" fill="#961946"/><rect x="2025" y="372.2" width="46" height="77.1" fill="#a51c42"/><rect x="2071" y="372.2" width="46" height="77.1" fill="#961946"/><rect x="2117" y="372.2" width="11" height="77.1" fill="#a51c42"/><rect x="2128" y="372.2" width="23" height="77.1" fill="#961946"/><rect x="2151" y="372.2" width="12" height="77.1" fill="#851748"/><rect x="2163" y="372.2" width="23" height="77.1" fill="#961946"/><rect x="2186" y="372.2" width="34" height="77.1" fill="#851748"/><rect x="2220" y="372.2" width="35" height="77.1" fill="#961946"/><rect x="2255" y="372.2" width="46" height="77.1" fill="#851748"/><rect x="2301" y="372.2" width="34" height="77.1" fill="#961946"/><rect x="2335" y="372.2" width="35" height="77.1" fill="#851748"/>
<rect x="1449" y="449.3" width="11" height="77.0" fill="#c8693b"/><rect x="1460" y="449.3" width="12" height="77.0" fill="#cd844c"/><rect x="1472" y="449.3" width="34" height="77.0" fill="#c8693b"/><rect x="1506" y="449.3" width="47" height="77.0" fill="#c64e39"/><rect x="1553" y="449.3" width="11" height="77.0" fill="#c8693b"/><rect x="1564" y="449.3" width="81" height="77.0" fill="#c64e39"/><rect x="1645" y="449.3" width="11" height="77.0" fill="#c32e38"/><rect x="1656" y="449.3" width="23" height="77.0" fill="#c64e39"/><rect x="1679" y="449.3" width="12" height="77.0" fill="#c32e38"/><rect x="1691" y="449.3" width="11" height="77.0" fill="#c64e39"/><rect x="1702" y="449.3" width="35" height="77.0" fill="#c32e38"/><rect x="1737" y="449.3" width="23" height="77.0" fill="#c64e39"/><rect x="1760" y="449.3" width="23" height="77.0" fill="#c32e38"/><rect x="1783" y="449.3" width="11" height="77.0" fill="#c64e39"/><rect x="1794" y="449.3" width="12" height="77.0" fill="#c32e38"/><rect x="1806" y="449.3" width="11" height="77.0" fill="#c64e39"/><rect x="1817" y="449.3" width="35" height="77.0" fill="#c32e38"/><rect x="1852" y="449.3" width="23" height="77.0" fill="#b71d3a"/><rect x="1875" y="449.3" width="81" height="77.0" fill="#c32e38"/><rect x="1956" y="449.3" width="23" height="77.0" fill="#b71d3a"/><rect x="1979" y="449.3" width="11" height="77.0" fill="#c32e38"/><rect x="1990" y="449.3" width="35" height="77.0" fill="#b71d3a"/><rect x="2025" y="449.3" width="23" height="77.0" fill="#c32e38"/><rect x="2048" y="449.3" width="11" height="77.0" fill="#b71d3a"/><rect x="2059" y="449.3" width="23" height="77.0" fill="#c32e38"/><rect x="2082" y="449.3" width="12" height="77.0" fill="#c64e39"/><rect x="2094" y="449.3" width="11" height="77.0" fill="#c32e38"/><rect x="2105" y="449.3" width="12" height="77.0" fill="#b71d3a"/><rect x="2117" y="449.3" width="23" height="77.0" fill="#c32e38"/><rect x="2140" y="449.3" width="11" height="77.0" fill="#c64e39"/><rect x="2151" y="449.3" width="12" height="77.0" fill="#c32e38"/><rect x="2163" y="449.3" width="23" height="77.0" fill="#c64e39"/><rect x="2186" y="449.3" width="161" height="77.0" fill="#c32e38"/><rect x="2347" y="449.3" width="23" height="77.0" fill="#c64e39"/>
<rect x="1449" y="526.3" width="11" height="81.0" fill="#c8693b"/><rect x="1460" y="526.3" width="12" height="81.0" fill="#cd844c"/><rect x="1472" y="526.3" width="23" height="81.0" fill="#c8693b"/><rect x="1495" y="526.3" width="11" height="81.0" fill="#c64e39"/><rect x="1506" y="526.3" width="23" height="81.0" fill="#c8693b"/><rect x="1529" y="526.3" width="70" height="81.0" fill="#c64e39"/><rect x="1599" y="526.3" width="11" height="81.0" fill="#c8693b"/><rect x="1610" y="526.3" width="81" height="81.0" fill="#c64e39"/><rect x="1691" y="526.3" width="23" height="81.0" fill="#c32e38"/><rect x="1714" y="526.3" width="57" height="81.0" fill="#c64e39"/><rect x="1771" y="526.3" width="12" height="81.0" fill="#c32e38"/><rect x="1783" y="526.3" width="11" height="81.0" fill="#c64e39"/><rect x="1794" y="526.3" width="12" height="81.0" fill="#c32e38"/><rect x="1806" y="526.3" width="23" height="81.0" fill="#c64e39"/><rect x="1829" y="526.3" width="11" height="81.0" fill="#c32e38"/><rect x="1840" y="526.3" width="12" height="81.0" fill="#c64e39"/><rect x="1852" y="526.3" width="11" height="81.0" fill="#c32e38"/><rect x="1863" y="526.3" width="23" height="81.0" fill="#c64e39"/><rect x="1886" y="526.3" width="12" height="81.0" fill="#c8693b"/><rect x="1898" y="526.3" width="11" height="81.0" fill="#c32e38"/><rect x="1909" y="526.3" width="81" height="81.0" fill="#c64e39"/><rect x="1990" y="526.3" width="12" height="81.0" fill="#c32e38"/><rect x="2002" y="526.3" width="80" height="81.0" fill="#c64e39"/><rect x="2082" y="526.3" width="12" height="81.0" fill="#c8693b"/><rect x="2094" y="526.3" width="80" height="81.0" fill="#c64e39"/><rect x="2174" y="526.3" width="12" height="81.0" fill="#c8693b"/><rect x="2186" y="526.3" width="11" height="81.0" fill="#c64e39"/><rect x="2197" y="526.3" width="12" height="81.0" fill="#c32e38"/><rect x="2209" y="526.3" width="34" height="81.0" fill="#c64e39"/><rect x="2243" y="526.3" width="12" height="81.0" fill="#c8693b"/><rect x="2255" y="526.3" width="57" height="81.0" fill="#c64e39"/><rect x="2312" y="526.3" width="58" height="81.0" fill="#c8693b"/>
</g>
<rect x="2367.3" y="215.6" width="2.8" height="391.7" fill="#d8d8d8" opacity="0.35"/>
<g stroke="#fff" stroke-width="5.6" stroke-linecap="round">
<path d="M1456.5 295.5H2364"/><path d="M2360 295.5H2368.5" stroke-linecap="butt"/>
<path d="M1456.5 372.5H2364"/><path d="M2360 372.5H2368.5" stroke-linecap="butt"/>
<path d="M1456.5 449.6H2364"/><path d="M2360 449.6H2368.5" stroke-linecap="butt"/>
<path d="M1456.5 526.6H2364"/><path d="M2360 526.6H2368.5" stroke-linecap="butt"/>
</g>
<path transform="translate(175.8,347.7)" d="M-81 77.2L0 0L81.6 77.6L70.9 87.5L0 21L-70.4 87.5ZM-58.6 76.5V143.9H-12V93.5H12.1V143.9H59V76.5" fill="none" stroke="#000" stroke-width="3.3" stroke-linejoin="miter"/>
<path transform="translate(1373.8,347.7)" d="M-81 77.2L0 0L81.6 77.6L70.9 87.5L0 21L-70.4 87.5ZM-58.6 76.5V143.9H-12V93.5H12.1V143.9H59V76.5" fill="none" stroke="#fff" stroke-width="3.3" stroke-linejoin="miter"/>
<path transform="translate(2278.4,347.7)" d="M-81 77.2L0 0L81.6 77.6L70.9 87.5L0 21L-70.4 87.5ZM-58.6 76.5V143.9H-12V93.5H12.1V143.9H59V76.5" fill="none" stroke="#fff" stroke-width="3.3" stroke-linejoin="miter"/>
<rect x="1358" y="13.6" width="180" height="85.2" fill="#3d3d3d"/>
<g font-family="'Liberation Sans', sans-serif">
<text x="1397.6" y="75.1" font-size="53.5" fill="#fff" font-weight="bold" font-style="normal" text-anchor="start" textLength="103.0" lengthAdjust="spacingAndGlyphs">2020</text>
<text x="20.2" y="206.2" font-size="48.5" fill="#7d7d7d" font-weight="normal" font-style="normal" text-anchor="start" textLength="83.4" lengthAdjust="spacingAndGlyphs" stroke="#f8f8f9" stroke-width="1">1900</text>
<text x="482.5" y="206.2" font-size="48.5" fill="#7d7d7d" font-weight="normal" font-style="normal" text-anchor="start" textLength="81.5" lengthAdjust="spacingAndGlyphs" stroke="#f8f8f9" stroke-width="1">1940</text>
<text x="939.5" y="206.2" font-size="48.5" fill="#7d7d7d" font-weight="normal" font-style="normal" text-anchor="start" textLength="84.0" lengthAdjust="spacingAndGlyphs" stroke="#f8f8f9" stroke-width="1">1980</text>
<text x="1858.3" y="206.2" font-size="48.5" fill="#7d7d7d" font-weight="normal" font-style="normal" text-anchor="start" textLength="85.7" lengthAdjust="spacingAndGlyphs" stroke="#f8f8f9" stroke-width="1">2060</text>
<text x="2319.8" y="206.2" font-size="48.5" fill="#7d7d7d" font-weight="normal" font-style="normal" text-anchor="start" textLength="83.7" lengthAdjust="spacingAndGlyphs" stroke="#f8f8f9" stroke-width="1">2100</text>
<text x="1466.5" y="155.6" font-size="44.5" fill="#3a3a3a" font-weight="bold" font-style="normal" text-anchor="start" textLength="313.0" lengthAdjust="spacingAndGlyphs">Future emissions</text>
<text x="1467.8" y="196.2" font-size="44.5" fill="#3a3a3a" font-weight="bold" font-style="normal" text-anchor="start" textLength="185.0" lengthAdjust="spacingAndGlyphs">scenarios:</text>
<text x="1011.6" y="83.9" font-size="31" fill="#727272" font-weight="normal" font-style="italic" text-anchor="start" textLength="231.0" lengthAdjust="spacingAndGlyphs" stroke="#f3f4f6" stroke-width="0.4">2011-2020 was</text>
<text x="1011.6" y="116.1" font-size="31" fill="#727272" font-weight="normal" font-style="italic" text-anchor="start" textLength="322.0" lengthAdjust="spacingAndGlyphs" stroke="#f3f4f6" stroke-width="0.4">around 1.1°C warmer</text>
<text x="1011.6" y="149.1" font-size="31" fill="#727272" font-weight="normal" font-style="italic" text-anchor="start" textLength="243.0" lengthAdjust="spacingAndGlyphs" stroke="#f3f4f6" stroke-width="0.4">than 1850-1900</text>
<text x="1880.2" y="103.1" font-size="31" fill="#727272" font-weight="normal" font-style="italic" text-anchor="start" textLength="448.4" lengthAdjust="spacingAndGlyphs" stroke="#fff" stroke-width="0.4">future experiences depend on</text>
<text x="1880.2" y="136.4" font-size="31" fill="#727272" font-weight="normal" font-style="italic" text-anchor="start" textLength="479.4" lengthAdjust="spacingAndGlyphs" stroke="#fff" stroke-width="0.4">how we address climate change</text>
<text x="2432.0" y="322.9" font-size="31" fill="#727272" font-weight="normal" font-style="italic" text-anchor="start" textLength="133.3" lengthAdjust="spacingAndGlyphs" stroke="#fff" stroke-width="0.4">warming</text>
<text x="2420.5" y="354.4" font-size="31" fill="#727272" font-weight="normal" font-style="italic" text-anchor="start" textLength="144.8" lengthAdjust="spacingAndGlyphs" stroke="#fff" stroke-width="0.4">continues</text>
<text x="2420.5" y="387.3" font-size="31" fill="#727272" font-weight="normal" font-style="italic" text-anchor="start" textLength="109.2" lengthAdjust="spacingAndGlyphs" stroke="#fff" stroke-width="0.4">beyond</text>
<text x="2420.5" y="419.9" font-size="31" fill="#727272" font-weight="normal" font-style="italic" text-anchor="start" textLength="71.7" lengthAdjust="spacingAndGlyphs" stroke="#fff" stroke-width="0.4">2100</text>
<text x="1459.4" y="275.7" font-size="45" fill="#fff" font-weight="normal" font-style="normal" text-anchor="start" textLength="160.3" lengthAdjust="spacingAndGlyphs">very high</text>
<text x="1458.4" y="354.8" font-size="45" fill="#fff" font-weight="normal" font-style="normal" text-anchor="start" textLength="80.7" lengthAdjust="spacingAndGlyphs">high</text>
<text x="1458.8" y="432.2" font-size="45" fill="#fff" font-weight="normal" font-style="normal" text-anchor="start" textLength="223.7" lengthAdjust="spacingAndGlyphs">intermediate</text>
<text x="1458.8" y="509.7" font-size="45" fill="#fff" font-weight="normal" font-style="normal" text-anchor="start" textLength="64.3" lengthAdjust="spacingAndGlyphs">low</text>
<text x="1459.4" y="587.1" font-size="45" fill="#fff" font-weight="normal" font-style="normal" text-anchor="start" textLength="145.6" lengthAdjust="spacingAndGlyphs">very low</text>
</g>
<g fill="none" stroke="#6c6c6c" stroke-width="2.4" stroke-linecap="round" stroke-linejoin="round">
<path d="M1336.3 110.3C1339.3 110.7 1348.7 110.8 1354.5 112.7C1360.3 114.6 1366.4 117.6 1371.2 121.6C1376.0 125.5 1380.1 131.0 1383.1 136.4C1386.1 141.8 1387.6 148.7 1389.0 154.1C1390.4 159.5 1391.0 165.5 1391.4 168.9C1391.8 172.3 1391.4 173.6 1391.4 174.5"/>
<path d="M1391.4 170.5C1390.8 171.9 1390.0 176.8 1388.0 178.7C1386.0 180.6 1383.9 181.0 1379.1 181.7C1374.3 182.4 1364.7 182.0 1359.4 182.7C1354.2 183.3 1350.6 184.0 1347.6 185.6C1344.6 187.2 1342.6 190.2 1341.2 192.5C1339.8 194.8 1339.5 198.2 1339.2 199.4"/>
<path d="M1391.4 170.5C1392.0 171.9 1392.9 176.5 1394.9 178.7C1397.0 180.9 1400.6 182.7 1403.7 183.7C1406.8 184.7 1409.8 184.9 1413.6 184.7C1417.4 184.4 1423.0 182.8 1426.4 182.2C1429.9 181.6 1432.1 180.9 1434.3 181.2C1436.5 181.4 1438.8 183.3 1439.7 183.7"/>
<path d="M1870.8 97.3C1868.9 97.9 1862.7 98.7 1859.2 100.8C1855.7 102.9 1853.0 106.4 1849.9 110.1C1846.8 113.8 1844.1 119.0 1840.6 122.9C1837.1 126.8 1833.6 130.8 1828.9 133.4C1824.2 136.0 1817.9 137.6 1812.6 138.7C1807.2 139.8 1799.4 139.5 1796.8 139.7M1808.4 122.4L1796.8 139.7L1811.9 155"/>
<path d="M2382.5 218.7C2384.0 219.1 2389.6 219.1 2391.7 221.0C2393.8 222.9 2394.8 221.9 2395.2 230.2C2395.6 238.4 2393.8 259.9 2394.0 270.5C2394.2 281.1 2395.3 287.8 2396.3 293.5C2397.3 299.2 2398.1 301.9 2400.2 305.0C2402.3 308.1 2404.7 310.5 2409.0 311.9C2413.3 313.3 2423.3 313.2 2426.2 313.5"/>
<path d="M2405.5 314.2C2404.6 315.3 2401.3 317.9 2400.2 321.0C2399.0 324.1 2398.6 323.8 2398.6 332.6C2398.6 341.4 2399.8 359.4 2400.2 374.0C2400.6 388.6 2401.3 409.7 2400.9 420.0C2400.5 430.3 2399.0 432.2 2397.5 436.0C2396.0 439.8 2394.2 441.3 2391.7 442.9C2389.2 444.5 2384.0 445.2 2382.5 445.7"/>
</g>
<rect x="67.2" y="642.2" width="838.7" height="170.3" fill="#fff" stroke="#e4e4e6" stroke-width="2.4"/>
<rect x="93" y="715.1" width="44" height="30.1" fill="#abd3ee"/>
<rect x="137" y="715.1" width="43" height="30.1" fill="#e6e7e7"/>
<rect x="180" y="715.1" width="44" height="30.1" fill="#d4cea6"/>
<rect x="224" y="715.1" width="44" height="30.1" fill="#ceb981"/>
<rect x="268" y="715.1" width="43" height="30.1" fill="#cc9e61"/>
<rect x="311" y="715.1" width="44" height="30.1" fill="#cd844c"/>
<rect x="355" y="715.1" width="43" height="30.1" fill="#c8693b"/>
<rect x="398" y="715.1" width="44" height="30.1" fill="#c64e39"/>
<rect x="442" y="715.1" width="43" height="30.1" fill="#c32e38"/>
<rect x="485" y="715.1" width="44" height="30.1" fill="#b71d3a"/>
<rect x="529" y="715.1" width="43" height="30.1" fill="#a51c42"/>
<rect x="572" y="715.1" width="44" height="30.1" fill="#961946"/>
<rect x="616" y="715.1" width="43" height="30.1" fill="#851748"/>
<rect x="659" y="715.1" width="44" height="30.1" fill="#771349"/>
<rect x="703" y="715.1" width="43" height="30.1" fill="#671049"/>
<rect x="746" y="715.1" width="44" height="30.1" fill="#590e48"/>
<rect x="790" y="715.1" width="43" height="30.1" fill="#490a46"/>
<rect x="833" y="715.1" width="44" height="30.1" fill="#3c0743"/>
<rect x="93.4" y="715.1" width="783.6" height="30.1" fill="none" stroke="#4a4a4a" stroke-width="1.2"/>
<g stroke="#4a4a4a" stroke-width="1.5">
<path d="M157.5 745V752"/>
<path d="M244.7 745V752"/>
<path d="M332.0 745V752"/>
<path d="M419.2 745V752"/>
<path d="M506.4 745V752"/>
<path d="M593.7 745V752"/>
<path d="M680.9 745V752"/>
<path d="M768.1 745V752"/>
<path d="M855.3 745V752"/>
</g>
<g font-family="'Liberation Sans', sans-serif">
<text x="157.5" y="791.7" font-size="37" fill="#7a7a7a" stroke="#fff" stroke-width="0.4" text-anchor="middle" textLength="16.5" lengthAdjust="spacingAndGlyphs">0</text>
<text x="244.7" y="791.7" font-size="37" fill="#7a7a7a" stroke="#fff" stroke-width="0.4" text-anchor="middle" textLength="42.7" lengthAdjust="spacingAndGlyphs">0.5</text>
<text x="332.0" y="791.7" font-size="37" fill="#7a7a7a" stroke="#fff" stroke-width="0.4" text-anchor="middle" textLength="16.5" lengthAdjust="spacingAndGlyphs">1</text>
<text x="419.2" y="791.7" font-size="37" fill="#7a7a7a" stroke="#fff" stroke-width="0.4" text-anchor="middle" textLength="42.7" lengthAdjust="spacingAndGlyphs">1.5</text>
<text x="506.4" y="791.7" font-size="37" fill="#7a7a7a" stroke="#fff" stroke-width="0.4" text-anchor="middle" textLength="16.5" lengthAdjust="spacingAndGlyphs">2</text>
<text x="593.7" y="791.7" font-size="37" fill="#7a7a7a" stroke="#fff" stroke-width="0.4" text-anchor="middle" textLength="42.7" lengthAdjust="spacingAndGlyphs">2.5</text>
<text x="680.9" y="791.7" font-size="37" fill="#7a7a7a" stroke="#fff" stroke-width="0.4" text-anchor="middle" textLength="16.5" lengthAdjust="spacingAndGlyphs">3</text>
<text x="768.1" y="791.7" font-size="37" fill="#7a7a7a" stroke="#fff" stroke-width="0.4" text-anchor="middle" textLength="42.7" lengthAdjust="spacingAndGlyphs">3.5</text>
<text x="855.3" y="791.7" font-size="37" fill="#7a7a7a" stroke="#fff" stroke-width="0.4" text-anchor="middle" textLength="16.5" lengthAdjust="spacingAndGlyphs">4</text>
<text x="151.8" y="698.4" font-size="38.5" fill="#333" font-weight="normal" font-style="normal" text-anchor="start" textLength="724.6" lengthAdjust="spacingAndGlyphs" stroke="#333" stroke-width="0.5">Global temperature change above 1850-1900 levels</text>
<text x="103.0" y="702.3" font-size="43" fill="#7a7a7a" font-weight="normal" font-style="normal" text-anchor="start">°</text>
<text x="118.1" y="698.5" font-size="38.5" fill="#7a7a7a" font-weight="normal" font-style="normal" text-anchor="start" textLength="17.9" lengthAdjust="spacingAndGlyphs">C</text>
</g>
<path d="M93.7 688.3V669.4a3.9 3.9 0 0 1 7.8 0V688.3a7.5 7.5 0 1 1-7.8 0Z" fill="none" stroke="#7c7c7c" stroke-width="1.7"/><circle cx="97.6" cy="695" r="4.3" fill="#7c7c7c"/><path d="M97.6 695V677.2" stroke="#7c7c7c" stroke-width="2.5" stroke-linecap="round"/>
<g fill="none" stroke="#a9abb1" stroke-width="1.5"><use href="#girl1"/><use href="#man1"/><use href="#woman1"/><use href="#oldw1"/><use href="#r1gr" stroke-width="0.8"/></g><path d="M2253 815.4H2563" stroke="#a0a0a4" stroke-width="2"/><g clip-path="url(#r1)"><rect x="1434" y="664.4" width="3" height="162.4" fill="#cd844c"/><rect x="1437" y="664.4" width="12" height="162.4" fill="#c8693b"/><rect x="1449" y="664.4" width="23" height="35.3" fill="#c8693b"/><rect x="1472" y="664.4" width="11" height="35.3" fill="#c64e39"/><rect x="1483" y="664.4" width="12" height="35.3" fill="#c8693b"/><rect x="1495" y="664.4" width="23" height="35.3" fill="#c64e39"/><rect x="1518" y="664.4" width="11" height="35.3" fill="#c8693b"/><rect x="1529" y="664.4" width="24" height="35.3" fill="#c64e39"/><rect x="1553" y="664.4" width="11" height="35.3" fill="#c32e38"/><rect x="1564" y="664.4" width="12" height="35.3" fill="#b71d3a"/><rect x="1576" y="664.4" width="11" height="35.3" fill="#c32e38"/><rect x="1587" y="664.4" width="12" height="35.3" fill="#b71d3a"/><rect x="1599" y="664.4" width="57" height="35.3" fill="#c32e38"/><rect x="1656" y="664.4" width="23" height="35.3" fill="#b71d3a"/><rect x="1679" y="664.4" width="12" height="35.3" fill="#a51c42"/><rect x="1691" y="664.4" width="34" height="35.3" fill="#b71d3a"/><rect x="1725" y="664.4" width="81" height="35.3" fill="#a51c42"/><rect x="1806" y="664.4" width="11" height="35.3" fill="#961946"/><rect x="1817" y="664.4" width="23" height="35.3" fill="#a51c42"/><rect x="1840" y="664.4" width="12" height="35.3" fill="#961946"/><rect x="1852" y="664.4" width="11" height="35.3" fill="#a51c42"/><rect x="1863" y="664.4" width="81" height="35.3" fill="#851748"/><rect x="1944" y="664.4" width="58" height="35.3" fill="#771349"/><rect x="2002" y="664.4" width="23" height="35.3" fill="#671049"/><rect x="2025" y="664.4" width="11" height="35.3" fill="#590e48"/><rect x="2036" y="664.4" width="12" height="35.3" fill="#671049"/><rect x="2048" y="664.4" width="11" height="35.3" fill="#590e48"/><rect x="2059" y="664.4" width="23" height="35.3" fill="#671049"/><rect x="2082" y="664.4" width="12" height="35.3" fill="#590e48"/><rect x="2094" y="664.4" width="11" height="35.3" fill="#490a46"/><rect x="2105" y="664.4" width="12" height="35.3" fill="#590e48"/><rect x="2117" y="664.4" width="23" height="35.3" fill="#490a46"/><rect x="2140" y="664.4" width="11" height="35.3" fill="#3c0743"/><rect x="2151" y="664.4" width="23" height="35.3" fill="#490a46"/><rect x="2174" y="664.4" width="196" height="35.3" fill="#3c0743"/><rect x="1449" y="699.7" width="23" height="29.3" fill="#c8693b"/><rect x="1472" y="699.7" width="11" height="29.3" fill="#c64e39"/><rect x="1483" y="699.7" width="23" height="29.3" fill="#c8693b"/><rect x="1506" y="699.7" width="12" height="29.3" fill="#c64e39"/><rect x="1518" y="699.7" width="11" height="29.3" fill="#c8693b"/><rect x="1529" y="699.7" width="81" height="29.3" fill="#c64e39"/><rect x="1610" y="699.7" width="12" height="29.3" fill="#c32e38"/><rect x="1622" y="699.7" width="11" height="29.3" fill="#b71d3a"/><rect x="1633" y="699.7" width="35" height="29.3" fill="#c32e38"/><rect x="1668" y="699.7" width="11" height="29.3" fill="#c64e39"/><rect x="1679" y="699.7" width="12" height="29.3" fill="#c32e38"/><rect x="1691" y="699.7" width="11" height="29.3" fill="#c64e39"/><rect x="1702" y="699.7" width="23" height="29.3" fill="#c32e38"/><rect x="1725" y="699.7" width="58" height="29.3" fill="#b71d3a"/><rect x="1783" y="699.7" width="34" height="29.3" fill="#a51c42"/><rect x="1817" y="699.7" width="23" height="29.3" fill="#b71d3a"/><rect x="1840" y="699.7" width="46" height="29.3" fill="#a51c42"/><rect x="1886" y="699.7" width="12" height="29.3" fill="#961946"/><rect x="1898" y="699.7" width="11" height="29.3" fill="#a51c42"/><rect x="1909" y="699.7" width="12" height="29.3" fill="#961946"/><rect x="1921" y="699.7" width="11" height="29.3" fill="#a51c42"/><rect x="1932" y="699.7" width="35" height="29.3" fill="#851748"/><rect x="1967" y="699.7" width="23" height="29.3" fill="#961946"/><rect x="1990" y="699.7" width="92" height="29.3" fill="#851748"/><rect x="2082" y="699.7" width="46" height="29.3" fill="#771349"/><rect x="2128" y="699.7" width="115" height="29.3" fill="#671049"/><rect x="2243" y="699.7" width="12" height="29.3" fill="#590e48"/><rect x="2255" y="699.7" width="11" height="29.3" fill="#671049"/><rect x="2266" y="699.7" width="12" height="29.3" fill="#590e48"/><rect x="2278" y="699.7" width="92" height="29.3" fill="#490a46"/><rect x="1449" y="729.0" width="69" height="29.3" fill="#c8693b"/><rect x="1518" y="729.0" width="11" height="29.3" fill="#c64e39"/><rect x="1529" y="729.0" width="12" height="29.3" fill="#c32e38"/><rect x="1541" y="729.0" width="69" height="29.3" fill="#c64e39"/><rect x="1610" y="729.0" width="23" height="29.3" fill="#c8693b"/><rect x="1633" y="729.0" width="12" height="29.3" fill="#c64e39"/><rect x="1645" y="729.0" width="115" height="29.3" fill="#c32e38"/><rect x="1760" y="729.0" width="23" height="29.3" fill="#b71d3a"/><rect x="1783" y="729.0" width="11" height="29.3" fill="#c32e38"/><rect x="1794" y="729.0" width="92" height="29.3" fill="#b71d3a"/><rect x="1886" y="729.0" width="116" height="29.3" fill="#a51c42"/><rect x="2002" y="729.0" width="23" height="29.3" fill="#961946"/><rect x="2025" y="729.0" width="46" height="29.3" fill="#a51c42"/><rect x="2071" y="729.0" width="46" height="29.3" fill="#961946"/><rect x="2117" y="729.0" width="11" height="29.3" fill="#a51c42"/><rect x="2128" y="729.0" width="23" height="29.3" fill="#961946"/><rect x="2151" y="729.0" width="12" height="29.3" fill="#851748"/><rect x="2163" y="729.0" width="23" height="29.3" fill="#961946"/><rect x="2186" y="729.0" width="34" height="29.3" fill="#851748"/><rect x="2220" y="729.0" width="35" height="29.3" fill="#961946"/><rect x="2255" y="729.0" width="46" height="29.3" fill="#851748"/><rect x="2301" y="729.0" width="34" height="29.3" fill="#961946"/><rect x="2335" y="729.0" width="35" height="29.3" fill="#851748"/><rect x="1449" y="758.3" width="11" height="29.3" fill="#c8693b"/><rect x="1460" y="758.3" width="12" height="29.3" fill="#cd844c"/><rect x="1472" y="758.3" width="34" height="29.3" fill="#c8693b"/><rect x="1506" y="758.3" width="47" height="29.3" fill="#c64e39"/><rect x="1553" y="758.3" width="11" height="29.3" fill="#c8693b"/><rect x="1564" y="758.3" width="81" height="29.3" fill="#c64e39"/><rect x="1645" y="758.3" width="11" height="29.3" fill="#c32e38"/><rect x="1656" y="758.3" width="23" height="29.3" fill="#c64e39"/><rect x="1679" y="758.3" width="12" height="29.3" fill="#c32e38"/><rect x="1691" y="758.3" width="11" height="29.3" fill="#c64e39"/><rect x="1702" y="758.3" width="35" height="29.3" fill="#c32e38"/><rect x="1737" y="758.3" width="23" height="29.3" fill="#c64e39"/><rect x="1760" y="758.3" width="23" height="29.3" fill="#c32e38"/><rect x="1783" y="758.3" width="11" height="29.3" fill="#c64e39"/><rect x="1794" y="758.3" width="12" height="29.3" fill="#c32e38"/><rect x="1806" y="758.3" width="11" height="29.3" fill="#c64e39"/><rect x="1817" y="758.3" width="35" height="29.3" fill="#c32e38"/><rect x="1852" y="758.3" width="23" height="29.3" fill="#b71d3a"/><rect x="1875" y="758.3" width="81" height="29.3" fill="#c32e38"/><rect x="1956" y="758.3" width="23" height="29.3" fill="#b71d3a"/><rect x="1979" y="758.3" width="11" height="29.3" fill="#c32e38"/><rect x="1990" y="758.3" width="35" height="29.3" fill="#b71d3a"/><rect x="2025" y="758.3" width="23" height="29.3" fill="#c32e38"/><rect x="2048" y="758.3" width="11" height="29.3" fill="#b71d3a"/><rect x="2059" y="758.3" width="23" height="29.3" fill="#c32e38"/><rect x="2082" y="758.3" width="12" height="29.3" fill="#c64e39"/><rect x="2094" y="758.3" width="11" height="29.3" fill="#c32e38"/><rect x="2105" y="758.3" width="12" height="29.3" fill="#b71d3a"/><rect x="2117" y="758.3" width="23" height="29.3" fill="#c32e38"/><rect x="2140" y="758.3" width="11" height="29.3" fill="#c64e39"/><rect x="2151" y="758.3" width="12" height="29.3" fill="#c32e38"/><rect x="2163" y="758.3" width="23" height="29.3" fill="#c64e39"/><rect x="2186" y="758.3" width="161" height="29.3" fill="#c32e38"/><rect x="2347" y="758.3" width="23" height="29.3" fill="#c64e39"/><rect x="1449" y="787.6" width="11" height="39.2" fill="#c8693b"/><rect x="1460" y="787.6" width="12" height="39.2" fill="#cd844c"/><rect x="1472" y="787.6" width="23" height="39.2" fill="#c8693b"/><rect x="1495" y="787.6" width="11" height="39.2" fill="#c64e39"/><rect x="1506" y="787.6" width="23" height="39.2" fill="#c8693b"/><rect x="1529" y="787.6" width="70" height="39.2" fill="#c64e39"/><rect x="1599" y="787.6" width="11" height="39.2" fill="#c8693b"/><rect x="1610" y="787.6" width="81" height="39.2" fill="#c64e39"/><rect x="1691" y="787.6" width="23" height="39.2" fill="#c32e38"/><rect x="1714" y="787.6" width="57" height="39.2" fill="#c64e39"/><rect x="1771" y="787.6" width="12" height="39.2" fill="#c32e38"/><rect x="1783" y="787.6" width="11" height="39.2" fill="#c64e39"/><rect x="1794" y="787.6" width="12" height="39.2" fill="#c32e38"/><rect x="1806" y="787.6" width="23" height="39.2" fill="#c64e39"/><rect x="1829" y="787.6" width="11" height="39.2" fill="#c32e38"/><rect x="1840" y="787.6" width="12" height="39.2" fill="#c64e39"/><rect x="1852" y="787.6" width="11" height="39.2" fill="#c32e38"/><rect x="1863" y="787.6" width="23" height="39.2" fill="#c64e39"/><rect x="1886" y="787.6" width="12" height="39.2" fill="#c8693b"/><rect x="1898" y="787.6" width="11" height="39.2" fill="#c32e38"/><rect x="1909" y="787.6" width="81" height="39.2" fill="#c64e39"/><rect x="1990" y="787.6" width="12" height="39.2" fill="#c32e38"/><rect x="2002" y="787.6" width="80" height="39.2" fill="#c64e39"/><rect x="2082" y="787.6" width="12" height="39.2" fill="#c8693b"/><rect x="2094" y="787.6" width="80" height="39.2" fill="#c64e39"/><rect x="2174" y="787.6" width="12" height="39.2" fill="#c8693b"/><rect x="2186" y="787.6" width="11" height="39.2" fill="#c64e39"/><rect x="2197" y="787.6" width="12" height="39.2" fill="#c32e38"/><rect x="2209" y="787.6" width="34" height="39.2" fill="#c64e39"/><rect x="2243" y="787.6" width="12" height="39.2" fill="#c8693b"/><rect x="2255" y="787.6" width="57" height="39.2" fill="#c64e39"/><rect x="2312" y="787.6" width="58" height="39.2" fill="#c8693b"/><g stroke="#fff" stroke-width="2.2" opacity="0.9"><path d="M1454 699.7H2371"/><path d="M1454 729.0H2371"/><path d="M1454 758.3H2371"/><path d="M1454 787.6H2371"/></g></g><g clip-path="url(#r1c)"><rect x="1434" y="664.4" width="3" height="162.4" fill="#cd844c"/><rect x="1437" y="664.4" width="12" height="162.4" fill="#c8693b"/><rect x="1449" y="664.4" width="23" height="35.3" fill="#c8693b"/><rect x="1472" y="664.4" width="11" height="35.3" fill="#c64e39"/><rect x="1483" y="664.4" width="12" height="35.3" fill="#c8693b"/><rect x="1495" y="664.4" width="23" height="35.3" fill="#c64e39"/><rect x="1518" y="664.4" width="10" height="35.3" fill="#c8693b"/><rect x="1449" y="699.7" width="23" height="29.3" fill="#c8693b"/><rect x="1472" y="699.7" width="11" height="29.3" fill="#c64e39"/><rect x="1483" y="699.7" width="23" height="29.3" fill="#c8693b"/><rect x="1506" y="699.7" width="12" height="29.3" fill="#c64e39"/><rect x="1518" y="699.7" width="10" height="29.3" fill="#c8693b"/><rect x="1449" y="729.0" width="69" height="29.3" fill="#c8693b"/><rect x="1518" y="729.0" width="10" height="29.3" fill="#c64e39"/><rect x="1449" y="758.3" width="11" height="29.3" fill="#c8693b"/><rect x="1460" y="758.3" width="12" height="29.3" fill="#cd844c"/><rect x="1472" y="758.3" width="34" height="29.3" fill="#c8693b"/><rect x="1506" y="758.3" width="22" height="29.3" fill="#c64e39"/><rect x="1449" y="787.6" width="11" height="39.2" fill="#c8693b"/><rect x="1460" y="787.6" width="12" height="39.2" fill="#cd844c"/><rect x="1472" y="787.6" width="23" height="39.2" fill="#c8693b"/><rect x="1495" y="787.6" width="11" height="39.2" fill="#c64e39"/><rect x="1506" y="787.6" width="22" height="39.2" fill="#c8693b"/><g stroke="#fff" stroke-width="2.2" opacity="0.9"><path d="M1454 699.7H1528.5"/><path d="M1454 729.0H1528.5"/><path d="M1454 758.3H1528.5"/><path d="M1454 787.6H1528.5"/></g></g><g fill="none" stroke="#a9abb1" stroke-width="1.5"><use href="#boy2"/><use href="#teen2"/><use href="#walk2"/><use href="#oldw2"/><use href="#r2baby"/><use href="#r2gr" stroke-width="0.8"/></g><path d="M1794 1004.2H2097" stroke="#a0a0a4" stroke-width="2"/><g clip-path="url(#r2)"><rect x="970" y="851.0" width="7" height="164.8" fill="#d4cea6"/><rect x="977" y="851.0" width="104" height="164.8" fill="#ceb981"/><rect x="1081" y="851.0" width="11" height="164.8" fill="#cc9e61"/><rect x="1092" y="851.0" width="12" height="164.8" fill="#ceb981"/><rect x="1104" y="851.0" width="23" height="164.8" fill="#cc9e61"/><rect x="1127" y="851.0" width="34" height="164.8" fill="#ceb981"/><rect x="1161" y="851.0" width="12" height="164.8" fill="#cc9e61"/><rect x="1173" y="851.0" width="11" height="164.8" fill="#ceb981"/><rect x="1184" y="851.0" width="12" height="164.8" fill="#cc9e61"/><rect x="1196" y="851.0" width="11" height="164.8" fill="#cd844c"/><rect x="1207" y="851.0" width="35" height="164.8" fill="#cc9e61"/><rect x="1242" y="851.0" width="23" height="164.8" fill="#cd844c"/><rect x="1265" y="851.0" width="11" height="164.8" fill="#cc9e61"/><rect x="1276" y="851.0" width="35" height="164.8" fill="#cd844c"/><rect x="1311" y="851.0" width="11" height="164.8" fill="#cc9e61"/><rect x="1322" y="851.0" width="69" height="164.8" fill="#cd844c"/><rect x="1391" y="851.0" width="35" height="164.8" fill="#c8693b"/><rect x="1426" y="851.0" width="11" height="164.8" fill="#cd844c"/><rect x="1437" y="851.0" width="12" height="164.8" fill="#c8693b"/><rect x="1449" y="851.0" width="23" height="35.6" fill="#c8693b"/><rect x="1472" y="851.0" width="11" height="35.6" fill="#c64e39"/><rect x="1483" y="851.0" width="12" height="35.6" fill="#c8693b"/><rect x="1495" y="851.0" width="23" height="35.6" fill="#c64e39"/><rect x="1518" y="851.0" width="11" height="35.6" fill="#c8693b"/><rect x="1529" y="851.0" width="24" height="35.6" fill="#c64e39"/><rect x="1553" y="851.0" width="11" height="35.6" fill="#c32e38"/><rect x="1564" y="851.0" width="12" height="35.6" fill="#b71d3a"/><rect x="1576" y="851.0" width="11" height="35.6" fill="#c32e38"/><rect x="1587" y="851.0" width="12" height="35.6" fill="#b71d3a"/><rect x="1599" y="851.0" width="57" height="35.6" fill="#c32e38"/><rect x="1656" y="851.0" width="23" height="35.6" fill="#b71d3a"/><rect x="1679" y="851.0" width="12" height="35.6" fill="#a51c42"/><rect x="1691" y="851.0" width="34" height="35.6" fill="#b71d3a"/><rect x="1725" y="851.0" width="81" height="35.6" fill="#a51c42"/><rect x="1806" y="851.0" width="11" height="35.6" fill="#961946"/><rect x="1817" y="851.0" width="23" height="35.6" fill="#a51c42"/><rect x="1840" y="851.0" width="12" height="35.6" fill="#961946"/><rect x="1852" y="851.0" width="11" height="35.6" fill="#a51c42"/><rect x="1863" y="851.0" width="81" height="35.6" fill="#851748"/><rect x="1944" y="851.0" width="4" height="35.6" fill="#771349"/><rect x="1449" y="886.6" width="23" height="29.8" fill="#c8693b"/><rect x="1472" y="886.6" width="11" height="29.8" fill="#c64e39"/><rect x="1483" y="886.6" width="23" height="29.8" fill="#c8693b"/><rect x="1506" y="886.6" width="12" height="29.8" fill="#c64e39"/><rect x="1518" y="886.6" width="11" height="29.8" fill="#c8693b"/><rect x="1529" y="886.6" width="81" height="29.8" fill="#c64e39"/><rect x="1610" y="886.6" width="12" height="29.8" fill="#c32e38"/><rect x="1622" y="886.6" width="11" height="29.8" fill="#b71d3a"/><rect x="1633" y="886.6" width="35" height="29.8" fill="#c32e38"/><rect x="1668" y="886.6" width="11" height="29.8" fill="#c64e39"/><rect x="1679" y="886.6" width="12" height="29.8" fill="#c32e38"/><rect x="1691" y="886.6" width="11" height="29.8" fill="#c64e39"/><rect x="1702" y="886.6" width="23" height="29.8" fill="#c32e38"/><rect x="1725" y="886.6" width="58" height="29.8" fill="#b71d3a"/><rect x="1783" y="886.6" width="34" height="29.8" fill="#a51c42"/><rect x="1817" y="886.6" width="23" height="29.8" fill="#b71d3a"/><rect x="1840" y="886.6" width="46" height="29.8" fill="#a51c42"/><rect x="1886" y="886.6" width="12" height="29.8" fill="#961946"/><rect x="1898" y="886.6" width="11" height="29.8" fill="#a51c42"/><rect x="1909" y="886.6" width="12" height="29.8" fill="#961946"/><rect x="1921" y="886.6" width="11" height="29.8" fill="#a51c42"/><rect x="1932" y="886.6" width="16" height="29.8" fill="#851748"/><rect x="1449" y="916.4" width="69" height="29.7" fill="#c8693b"/><rect x="1518" y="916.4" width="11" height="29.7" fill="#c64e39"/><rect x="1529" y="916.4" width="12" height="29.7" fill="#c32e38"/><rect x="1541" y="916.4" width="69" height="29.7" fill="#c64e39"/><rect x="1610" y="916.4" width="23" height="29.7" fill="#c8693b"/><rect x="1633" y="916.4" width="12" height="29.7" fill="#c64e39"/><rect x="1645" y="916.4" width="115" height="29.7" fill="#c32e38"/><rect x="1760" y="916.4" width="23" height="29.7" fill="#b71d3a"/><rect x="1783" y="916.4" width="11" height="29.7" fill="#c32e38"/><rect x="1794" y="916.4" width="92" height="29.7" fill="#b71d3a"/><rect x="1886" y="916.4" width="62" height="29.7" fill="#a51c42"/><rect x="1449" y="946.1" width="11" height="29.7" fill="#c8693b"/><rect x="1460" y="946.1" width="12" height="29.7" fill="#cd844c"/><rect x="1472" y="946.1" width="34" height="29.7" fill="#c8693b"/><rect x="1506" y="946.1" width="47" height="29.7" fill="#c64e39"/><rect x="1553" y="946.1" width="11" height="29.7" fill="#c8693b"/><rect x="1564" y="946.1" width="81" height="29.7" fill="#c64e39"/><rect x="1645" y="946.1" width="11" height="29.7" fill="#c32e38"/><rect x="1656" y="946.1" width="23" height="29.7" fill="#c64e39"/><rect x="1679" y="946.1" width="12" height="29.7" fill="#c32e38"/><rect x="1691" y="946.1" width="11" height="29.7" fill="#c64e39"/><rect x="1702" y="946.1" width="35" height="29.7" fill="#c32e38"/><rect x="1737" y="946.1" width="23" height="29.7" fill="#c64e39"/><rect x="1760" y="946.1" width="23" height="29.7" fill="#c32e38"/><rect x="1783" y="946.1" width="11" height="29.7" fill="#c64e39"/><rect x="1794" y="946.1" width="12" height="29.7" fill="#c32e38"/><rect x="1806" y="946.1" width="11" height="29.7" fill="#c64e39"/><rect x="1817" y="946.1" width="35" height="29.7" fill="#c32e38"/><rect x="1852" y="946.1" width="23" height="29.7" fill="#b71d3a"/><rect x="1875" y="946.1" width="73" height="29.7" fill="#c32e38"/><rect x="1449" y="975.8" width="11" height="40.0" fill="#c8693b"/><rect x="1460" y="975.8" width="12" height="40.0" fill="#cd844c"/><rect x="1472" y="975.8" width="23" height="40.0" fill="#c8693b"/><rect x="1495" y="975.8" width="11" height="40.0" fill="#c64e39"/><rect x="1506" y="975.8" width="23" height="40.0" fill="#c8693b"/><rect x="1529" y="975.8" width="70" height="40.0" fill="#c64e39"/><rect x="1599" y="975.8" width="11" height="40.0" fill="#c8693b"/><rect x="1610" y="975.8" width="81" height="40.0" fill="#c64e39"/><rect x="1691" y="975.8" width="23" height="40.0" fill="#c32e38"/><rect x="1714" y="975.8" width="57" height="40.0" fill="#c64e39"/><rect x="1771" y="975.8" width="12" height="40.0" fill="#c32e38"/><rect x="1783" y="975.8" width="11" height="40.0" fill="#c64e39"/><rect x="1794" y="975.8" width="12" height="40.0" fill="#c32e38"/><rect x="1806" y="975.8" width="23" height="40.0" fill="#c64e39"/><rect x="1829" y="975.8" width="11" height="40.0" fill="#c32e38"/><rect x="1840" y="975.8" width="12" height="40.0" fill="#c64e39"/><rect x="1852" y="975.8" width="11" height="40.0" fill="#c32e38"/><rect x="1863" y="975.8" width="23" height="40.0" fill="#c64e39"/><rect x="1886" y="975.8" width="12" height="40.0" fill="#c8693b"/><rect x="1898" y="975.8" width="11" height="40.0" fill="#c32e38"/><rect x="1909" y="975.8" width="39" height="40.0" fill="#c64e39"/><g stroke="#fff" stroke-width="2.2" opacity="0.9"><path d="M1454 886.6H1948"/><path d="M1454 916.4H1948"/><path d="M1454 946.1H1948"/><path d="M1454 975.8H1948"/></g></g><g fill="none" stroke="#a9abb1" stroke-width="1.5"><use href="#girl3"/><use href="#man3"/><use href="#walk3"/><use href="#oldm3"/><use href="#r3baby"/><use href="#r3gr" stroke-width="0.8"/></g><path d="M1454 1205.8H1761" stroke="#a0a0a4" stroke-width="2"/><g clip-path="url(#r3)"><rect x="626" y="1050.0" width="17" height="166.6" fill="#d4cea6"/><rect x="643" y="1050.0" width="12" height="166.6" fill="#e6e7e7"/><rect x="655" y="1050.0" width="23" height="166.6" fill="#d4cea6"/><rect x="678" y="1050.0" width="11" height="166.6" fill="#ceb981"/><rect x="689" y="1050.0" width="23" height="166.6" fill="#d4cea6"/><rect x="712" y="1050.0" width="12" height="166.6" fill="#e6e7e7"/><rect x="724" y="1050.0" width="80" height="166.6" fill="#d4cea6"/><rect x="804" y="1050.0" width="12" height="166.6" fill="#e6e7e7"/><rect x="816" y="1050.0" width="92" height="166.6" fill="#d4cea6"/><rect x="908" y="1050.0" width="11" height="166.6" fill="#ceb981"/><rect x="919" y="1050.0" width="35" height="166.6" fill="#d4cea6"/><rect x="954" y="1050.0" width="11" height="166.6" fill="#ceb981"/><rect x="965" y="1050.0" width="12" height="166.6" fill="#d4cea6"/><rect x="977" y="1050.0" width="104" height="166.6" fill="#ceb981"/><rect x="1081" y="1050.0" width="11" height="166.6" fill="#cc9e61"/><rect x="1092" y="1050.0" width="12" height="166.6" fill="#ceb981"/><rect x="1104" y="1050.0" width="23" height="166.6" fill="#cc9e61"/><rect x="1127" y="1050.0" width="34" height="166.6" fill="#ceb981"/><rect x="1161" y="1050.0" width="12" height="166.6" fill="#cc9e61"/><rect x="1173" y="1050.0" width="11" height="166.6" fill="#ceb981"/><rect x="1184" y="1050.0" width="12" height="166.6" fill="#cc9e61"/><rect x="1196" y="1050.0" width="11" height="166.6" fill="#cd844c"/><rect x="1207" y="1050.0" width="35" height="166.6" fill="#cc9e61"/><rect x="1242" y="1050.0" width="23" height="166.6" fill="#cd844c"/><rect x="1265" y="1050.0" width="11" height="166.6" fill="#cc9e61"/><rect x="1276" y="1050.0" width="35" height="166.6" fill="#cd844c"/><rect x="1311" y="1050.0" width="11" height="166.6" fill="#cc9e61"/><rect x="1322" y="1050.0" width="69" height="166.6" fill="#cd844c"/><rect x="1391" y="1050.0" width="35" height="166.6" fill="#c8693b"/><rect x="1426" y="1050.0" width="11" height="166.6" fill="#cd844c"/><rect x="1437" y="1050.0" width="12" height="166.6" fill="#c8693b"/><rect x="1449" y="1050.0" width="11" height="166.6" fill="#c8693b"/><rect x="1460" y="1050.0" width="12" height="166.6" fill="#cd844c"/><rect x="1472" y="1050.0" width="23" height="166.6" fill="#c8693b"/><rect x="1495" y="1050.0" width="11" height="166.6" fill="#c64e39"/><rect x="1506" y="1050.0" width="23" height="166.6" fill="#c8693b"/><rect x="1529" y="1050.0" width="70" height="166.6" fill="#c64e39"/><rect x="1599" y="1050.0" width="11" height="166.6" fill="#c8693b"/><rect x="1610" y="1050.0" width="52" height="166.6" fill="#c64e39"/></g><path d="M1383 1138.8L1389.2 1201.8" stroke="#a4a4a8" stroke-width="1.5"/>
<g font-family="'Liberation Sans', sans-serif">
<text x="1305.8" y="756.1" font-size="37.5" fill="#6d6c6d" font-weight="bold" font-style="normal" text-anchor="start" textLength="74.0" lengthAdjust="spacingAndGlyphs">born</text>
<text x="1305.0" y="793.8" font-size="37.0" fill="#7a7a7a" font-weight="normal" font-style="normal" text-anchor="start" textLength="107.4" lengthAdjust="spacingAndGlyphs" stroke="#fff" stroke-width="0.5">in 2020</text>
<text x="850.3" y="920.7" font-size="37.5" fill="#6d6c6d" font-weight="bold" font-style="normal" text-anchor="start" textLength="72.8" lengthAdjust="spacingAndGlyphs">born</text>
<text x="849.6" y="960.3" font-size="37.0" fill="#7a7a7a" font-weight="normal" font-style="normal" text-anchor="start" textLength="105.2" lengthAdjust="spacingAndGlyphs" stroke="#fff" stroke-width="0.5">in 1980</text>
<text x="504.4" y="1146.0" font-size="43" fill="#6d6c6d" font-weight="bold" font-style="normal" text-anchor="start" textLength="83.2" lengthAdjust="spacingAndGlyphs">born</text>
<text x="503.8" y="1186.4" font-size="37.5" fill="#7a7a7a" font-weight="normal" font-style="normal" text-anchor="start" textLength="104.8" lengthAdjust="spacingAndGlyphs" stroke="#fff" stroke-width="0.5">in 1950</text>
<text x="2270.2" y="737.5" font-size="42.5" fill="#6d6c6d" font-weight="bold" font-style="normal" text-anchor="start" textLength="145.8" lengthAdjust="spacingAndGlyphs">70 years</text>
<text x="2270.2" y="785.6" font-size="42.5" fill="#6d6c6d" font-weight="bold" font-style="normal" text-anchor="start" textLength="52.5" lengthAdjust="spacingAndGlyphs">old</text>
<text x="2336.7" y="786.0" font-size="37.0" fill="#7a7a7a" font-weight="normal" font-style="normal" text-anchor="start" textLength="101.8" lengthAdjust="spacingAndGlyphs" stroke="#fff" stroke-width="0.5">in 2090</text>
<text x="1809.0" y="935.1" font-size="42.5" fill="#6d6c6d" font-weight="bold" font-style="normal" text-anchor="start" textLength="146.8" lengthAdjust="spacingAndGlyphs">70 years</text>
<text x="1809.0" y="984.0" font-size="42.5" fill="#6d6c6d" font-weight="bold" font-style="normal" text-anchor="start" textLength="52.5" lengthAdjust="spacingAndGlyphs">old</text>
<text x="1872.4" y="984.4" font-size="37.0" fill="#7a7a7a" font-weight="normal" font-style="normal" text-anchor="start" textLength="104.4" lengthAdjust="spacingAndGlyphs" stroke="#fff" stroke-width="0.5">in 2050</text>
<text x="1464.5" y="1137.3" font-size="42.5" fill="#6d6c6d" font-weight="bold" font-style="normal" text-anchor="start" textLength="145.9" lengthAdjust="spacingAndGlyphs">70 years</text>
<text x="1464.5" y="1186.7" font-size="42.5" fill="#6d6c6d" font-weight="bold" font-style="normal" text-anchor="start" textLength="50.8" lengthAdjust="spacingAndGlyphs">old</text>
<text x="1528.3" y="1187.1" font-size="37.0" fill="#7a7a7a" font-weight="normal" font-style="normal" text-anchor="start" textLength="104.4" lengthAdjust="spacingAndGlyphs" stroke="#fff" stroke-width="0.5">in 2020</text>
</g>
<g stroke="#9d9da1" stroke-width="1.5" fill="none">
<path d="M1425 777.5H1448.6V813"/><path d="M965.8 944H988.3"/><path d="M619.9 1167.2H643.3"/>
<path d="M2253.2 717H2269"/><path d="M1793 918.8H1807"/><path d="M1454 1116H1464"/>
</g>
</svg>
</body></html>
